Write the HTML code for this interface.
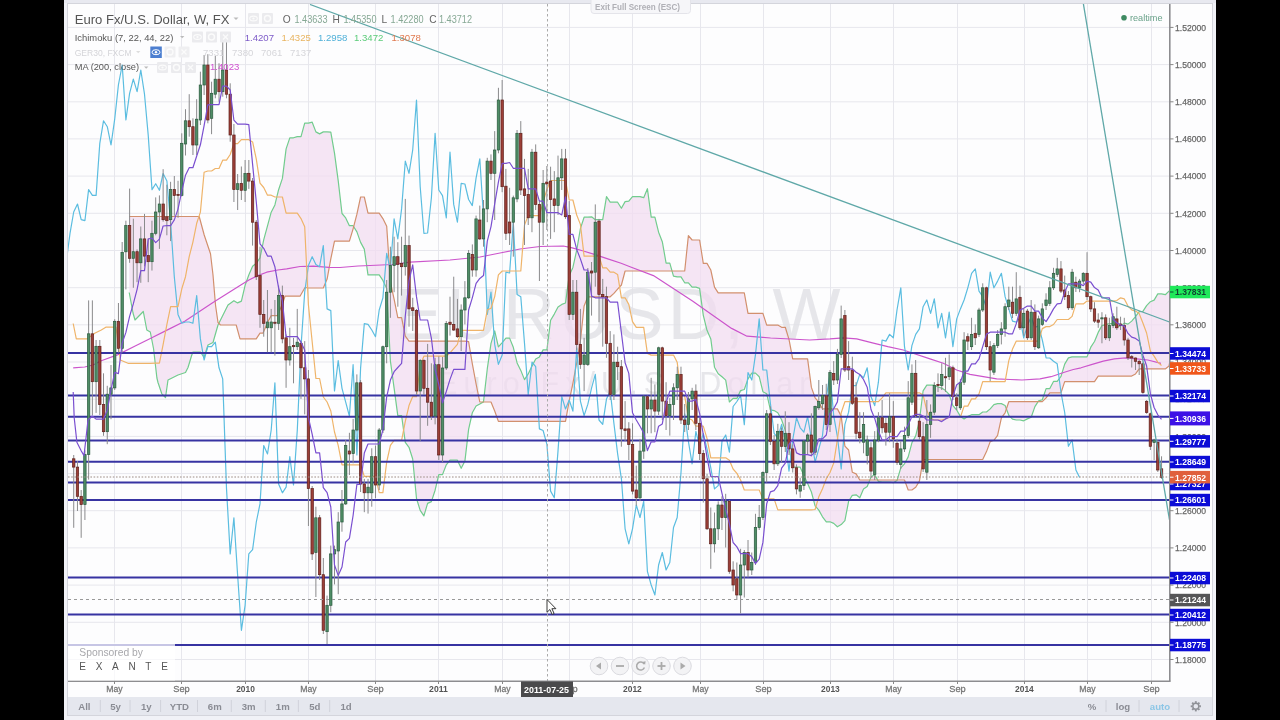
<!DOCTYPE html>
<html><head><meta charset="utf-8"><title>EURUSD W</title>
<style>
html,body{margin:0;padding:0;background:#000;width:1280px;height:720px;overflow:hidden}
#frame{position:absolute;left:64px;top:0;width:1152px;height:720px;background:#f1f2f7}
#topbar{position:absolute;left:64px;top:0;width:1152px;height:3px;background:#e8e9f0}
#border{position:absolute;left:67px;top:3px;width:1146px;height:713px;background:#d4d5dc}
#chartbg{position:absolute;left:68px;top:4px;width:1144px;height:693px;background:#fdfdfe}
#toolbar{position:absolute;left:68px;top:697px;width:1144px;height:18px;background:#e5e7ee}
#bottom{position:absolute;left:64px;top:716px;width:1152px;height:4px;background:#f1f2f7}
svg{position:absolute;left:0;top:0;filter:blur(0.35px)}
text{font-family:"Liberation Sans",Arial,sans-serif}
.g{stroke:#e7e7ed;stroke-width:1}
.l{fill:none;stroke-width:1.2;stroke-linejoin:round}
.bl{stroke:#3733a2;stroke-width:2.1}
.wk{stroke:#8a8a8c;stroke-width:1}
.cg{fill:#4f8d66;stroke:#2a5a3e;stroke-width:0.7}
.cr{fill:#9c3f38;stroke:#5e1f1a;stroke-width:0.7}
.wm1{font-size:72px;fill:#e2e2e6;fill-opacity:0.85}
.wm2{font-size:30.5px;fill:#e2e2e6;letter-spacing:6.1px;fill-opacity:0.85}
.pl{font-size:9.8px;fill:#666;stroke:#666;stroke-width:0.25}
.bx{font-size:9.8px;fill:#fff;font-weight:bold}
.tl{font-size:9.4px;fill:#777;text-anchor:middle;stroke:#777;stroke-width:0.3}
.tb{font-size:9.4px;fill:#555;text-anchor:middle;font-weight:bold}
.lg{fill:#555}
.btn{font-size:9.6px;fill:#8a8c94;text-anchor:middle;font-weight:bold}
.sep{stroke:#d0d2da;stroke-width:1}
.ic{fill:#ebebee}
</style></head>
<body>
<div id="frame"></div>
<div id="topbar"></div>
<div id="border"></div>
<div id="chartbg"></div>
<div id="toolbar"></div>
<div id="bottom"></div>
<svg width="1280" height="720" viewBox="0 0 1280 720">
<defs><clipPath id="pc"><rect x="68" y="4" width="1101.5" height="677"/></clipPath></defs>
<g clip-path="url(#pc)">
<line x1="114.5" y1="4" x2="114.5" y2="681" class="g"/>
<line x1="181.5" y1="4" x2="181.5" y2="681" class="g"/>
<line x1="245.5" y1="4" x2="245.5" y2="681" class="g"/>
<line x1="308.5" y1="4" x2="308.5" y2="681" class="g"/>
<line x1="375.5" y1="4" x2="375.5" y2="681" class="g"/>
<line x1="438.5" y1="4" x2="438.5" y2="681" class="g"/>
<line x1="502.5" y1="4" x2="502.5" y2="681" class="g"/>
<line x1="569.5" y1="4" x2="569.5" y2="681" class="g"/>
<line x1="632.5" y1="4" x2="632.5" y2="681" class="g"/>
<line x1="700.5" y1="4" x2="700.5" y2="681" class="g"/>
<line x1="763.5" y1="4" x2="763.5" y2="681" class="g"/>
<line x1="830.5" y1="4" x2="830.5" y2="681" class="g"/>
<line x1="893.5" y1="4" x2="893.5" y2="681" class="g"/>
<line x1="957.5" y1="4" x2="957.5" y2="681" class="g"/>
<line x1="1024.5" y1="4" x2="1024.5" y2="681" class="g"/>
<line x1="1087.5" y1="4" x2="1087.5" y2="681" class="g"/>
<line x1="1151.5" y1="4" x2="1151.5" y2="681" class="g"/>
<line x1="68" y1="27.4" x2="1169.5" y2="27.4" class="g"/>
<line x1="68" y1="64.6" x2="1169.5" y2="64.6" class="g"/>
<line x1="68" y1="101.8" x2="1169.5" y2="101.8" class="g"/>
<line x1="68" y1="138.9" x2="1169.5" y2="138.9" class="g"/>
<line x1="68" y1="176.1" x2="1169.5" y2="176.1" class="g"/>
<line x1="68" y1="213.3" x2="1169.5" y2="213.3" class="g"/>
<line x1="68" y1="250.5" x2="1169.5" y2="250.5" class="g"/>
<line x1="68" y1="287.7" x2="1169.5" y2="287.7" class="g"/>
<line x1="68" y1="324.8" x2="1169.5" y2="324.8" class="g"/>
<line x1="68" y1="362.0" x2="1169.5" y2="362.0" class="g"/>
<line x1="68" y1="399.2" x2="1169.5" y2="399.2" class="g"/>
<line x1="68" y1="436.4" x2="1169.5" y2="436.4" class="g"/>
<line x1="68" y1="473.6" x2="1169.5" y2="473.6" class="g"/>
<line x1="68" y1="510.7" x2="1169.5" y2="510.7" class="g"/>
<line x1="68" y1="547.9" x2="1169.5" y2="547.9" class="g"/>
<line x1="68" y1="585.1" x2="1169.5" y2="585.1" class="g"/>
<line x1="68" y1="622.3" x2="1169.5" y2="622.3" class="g"/>
<line x1="68" y1="659.5" x2="1169.5" y2="659.5" class="g"/>
<text x="394.5" y="339.2" class="wm1" textLength="446" lengthAdjust="spacing">EURUSD, W</text>
<text x="437" y="393.8" class="wm2">Euro Fx/U.S. Dollar</text>
<polygon points="129.2,292.5 133.0,313.0 135.0,320.0 143.3,311.5 146.8,330.0 150.3,332.0 153.6,349.0 156.9,378.0 158.0,382.5 161.8,393.8 165.5,397.5 168.0,380.0 173.0,377.5 178.0,375.0 185.5,372.5 188.0,367.5 191.8,355.0 193.0,352.0 199.2,352.0 200.5,352.0 204.0,357.5 204.2,356.7 208.0,345.0 210.5,343.8 213.0,342.5 215.5,333.8 218.0,325.0 220.5,320.0 223.0,315.0 228.0,305.0 233.9,300.7 236.2,302.1 237.6,302.9 240.0,301.8 241.4,301.1 245.1,285.3 248.8,275.0 252.6,266.2 256.2,263.3 256.3,263.3 260.0,257.9 260.0,257.9 263.1,242.9 263.7,239.9 267.5,225.9 267.5,225.7 271.2,212.2 271.2,212.0 274.9,204.9 277.5,194.3 278.6,189.7 282.4,178.4 282.5,177.3 285.0,157.5 286.1,148.9 289.8,137.9 293.5,137.8 297.3,136.6 300.0,136.6 301.0,136.6 304.7,123.2 305.0,123.2 308.4,123.2 312.2,122.2 315.9,131.9 319.6,133.9 323.3,131.9 327.1,131.9 330.8,132.1 334.5,153.2 338.2,180.6 342.0,213.5 345.7,217.9 349.4,225.7 353.1,225.7 356.9,231.9 360.6,242.4 364.3,249.1 368.0,274.9 371.8,274.9 375.5,274.9 379.2,274.9 382.9,280.4 386.7,288.4 390.4,361.0 394.1,388.2 397.8,415.7 401.6,415.7 405.3,442.3 409.0,447.3 412.7,459.0 416.5,498.5 420.2,510.4 423.9,515.9 427.6,503.4 431.4,501.6 435.1,490.2 438.8,474.6 442.5,474.6 446.3,464.8 450.0,460.2 453.7,460.2 457.4,460.2 461.2,468.3 464.9,461.1 468.6,429.4 472.3,412.8 476.1,406.0 479.8,403.9 483.5,401.9 487.3,368.7 491.0,343.3 494.7,330.8 498.4,346.8 502.2,342.6 505.9,338.1 509.6,338.1 513.3,347.3 517.1,362.9 520.8,370.4 524.5,379.6 528.2,373.9 532.0,366.1 535.7,359.0 539.4,356.9 543.1,349.9 546.9,349.9 550.6,320.2 554.3,314.1 558.0,306.9 561.8,304.4 565.5,303.0 569.2,275.5 572.9,267.4 576.7,250.2 580.4,228.6 584.1,217.2 587.8,217.2 591.6,216.8 595.3,219.7 599.0,219.7 602.7,219.7 606.5,196.7 610.2,202.2 613.9,202.2 617.6,202.2 621.4,208.3 625.1,201.6 628.8,201.1 632.5,196.6 636.3,196.6 640.0,196.6 643.7,197.7 647.4,188.7 651.2,217.2 654.9,217.2 658.6,232.2 662.3,241.7 666.1,263.1 669.8,263.1 673.5,276.1 677.2,276.9 681.0,276.9 684.7,282.8 688.4,282.8 692.1,287.2 695.9,287.2 699.6,288.3 703.3,315.3 707.0,330.3 710.8,338.9 714.5,367.2 718.2,373.7 722.0,376.8 725.7,380.1 729.4,402.0 733.1,398.4 736.9,398.4 740.6,390.6 744.3,389.5 748.0,378.9 751.8,373.1 755.5,373.1 759.2,376.7 762.9,391.7 766.7,393.7 770.4,409.8 774.1,410.6 777.8,412.8 781.6,419.8 785.3,430.4 789.0,447.8 792.7,467.2 796.5,467.2 800.2,467.2 803.9,475.6 807.6,483.6 811.4,492.0 815.1,505.8 818.8,510.1 822.5,516.8 826.3,521.8 830.0,521.8 833.7,523.4 837.4,526.8 841.2,524.6 844.9,520.6 848.6,501.3 852.3,495.4 856.1,494.8 859.8,497.8 863.5,489.0 867.2,486.5 871.0,477.1 874.7,474.6 878.4,481.4 882.1,482.2 885.9,482.2 889.6,482.2 893.3,482.7 897.0,480.6 900.8,467.8 904.5,463.8 908.2,456.9 911.9,442.8 915.7,435.9 919.4,420.7 923.1,390.8 926.8,385.2 930.6,385.2 934.3,385.2 938.0,387.0 941.7,388.1 945.5,390.6 949.2,394.5 952.9,405.6 956.7,410.0 960.4,416.4 964.1,418.9 967.8,416.4 971.6,414.7 975.3,414.7 979.0,414.7 982.7,412.0 986.5,412.0 990.2,408.9 993.9,404.7 997.6,403.6 1001.4,403.6 1005.1,405.5 1008.8,415.3 1012.5,419.2 1016.3,420.0 1020.0,420.0 1023.7,420.8 1027.4,418.9 1031.2,417.2 1034.9,406.6 1038.6,400.9 1042.3,399.7 1046.1,388.6 1049.8,388.6 1053.5,381.4 1057.2,381.4 1061.0,376.4 1064.7,364.1 1068.4,357.9 1072.1,356.9 1075.9,356.9 1079.6,356.9 1083.3,356.9 1087.0,356.9 1090.8,347.2 1094.5,341.5 1098.2,332.4 1101.9,325.6 1105.7,324.7 1109.4,323.6 1113.1,323.6 1116.8,326.1 1120.6,326.1 1124.3,323.2 1128.0,324.1 1131.7,321.1 1135.5,316.7 1139.2,311.7 1142.9,311.4 1146.6,305.7 1150.4,301.7 1154.1,300.1 1157.8,293.9 1161.5,293.9 1165.3,294.7 1169.0,291.1 1172.7,291.6 1176.5,294.4 1180.2,295.6 1183.9,299.4 1187.6,299.4 1191.4,299.4 1195.1,310.3 1198.8,311.6 1202.5,311.4 1206.3,312.5 1210.0,319.7 1213.7,323.5 1217.4,324.7 1221.2,327.2 1224.9,339.1 1228.6,349.4 1232.3,372.5 1236.1,381.8 1239.8,388.4 1243.5,392.4 1243.5,365.5 1239.8,362.1 1236.1,356.1 1232.3,351.1 1228.6,333.0 1224.9,323.0 1221.2,316.6 1217.4,316.6 1213.7,316.6 1210.0,316.6 1206.3,318.6 1202.5,331.1 1198.8,331.1 1195.1,331.1 1191.4,331.1 1187.6,331.1 1183.9,331.1 1180.2,331.1 1176.5,333.6 1172.7,345.0 1169.0,366.1 1165.3,368.9 1161.5,368.9 1157.8,368.9 1154.1,368.9 1150.4,368.9 1146.6,368.9 1142.9,368.9 1139.2,368.9 1135.5,373.9 1131.7,376.1 1128.0,376.1 1124.3,376.1 1120.6,376.1 1116.8,376.1 1113.1,376.1 1109.4,376.1 1105.7,376.1 1101.9,376.1 1098.2,376.1 1094.5,381.6 1090.8,381.6 1087.0,381.6 1083.3,381.6 1079.6,381.6 1075.9,381.6 1072.1,381.6 1068.4,381.6 1064.7,381.6 1061.0,392.8 1057.2,392.8 1053.5,392.8 1049.8,392.8 1046.1,397.8 1042.3,401.7 1038.6,401.7 1034.9,401.7 1031.2,401.7 1027.4,401.7 1023.7,401.7 1020.0,401.7 1016.3,401.7 1012.5,401.7 1008.8,401.7 1005.1,412.8 1001.4,417.8 997.6,435.3 993.9,440.3 990.2,441.6 986.5,451.6 982.7,459.5 979.0,459.5 975.3,459.5 971.6,459.5 967.8,459.5 964.1,459.5 960.4,459.5 956.7,459.5 952.9,459.5 949.2,459.5 945.5,459.5 941.7,459.5 938.0,459.5 934.3,459.5 930.6,459.5 926.8,459.5 923.1,459.5 919.4,481.1 915.7,487.2 911.9,490.0 908.2,490.0 904.5,480.0 900.8,480.0 897.0,480.0 893.3,480.0 889.6,480.0 885.9,480.0 882.1,480.0 878.4,480.0 874.7,480.0 871.0,480.0 867.2,480.0 863.5,480.0 859.8,480.0 856.1,473.9 852.3,472.2 848.6,450.0 844.9,446.1 841.2,416.1 837.4,408.9 833.7,408.9 830.0,408.9 826.3,408.9 822.5,408.9 818.8,402.2 815.1,397.8 811.4,387.4 807.6,358.8 803.9,358.8 800.2,358.8 796.5,358.8 792.7,358.8 789.0,339.4 785.3,327.3 781.6,327.3 777.8,325.1 774.1,325.1 770.4,325.1 766.7,325.1 762.9,313.4 759.2,313.4 755.5,313.4 751.8,313.4 748.0,313.4 744.3,292.9 740.6,292.9 736.9,292.9 733.1,292.9 729.4,292.9 725.7,292.9 722.0,292.9 718.2,292.9 714.5,287.2 710.8,270.0 707.0,263.4 703.3,263.4 699.6,240.0 695.9,240.0 692.1,240.0 688.4,235.6 684.7,271.0 681.0,271.0 677.2,271.0 673.5,271.0 669.8,271.0 666.1,271.0 662.3,271.0 658.6,271.0 654.9,271.0 651.2,271.0 647.4,271.0 643.7,271.0 640.0,271.0 636.3,271.0 632.5,271.0 628.8,271.0 625.1,271.0 621.4,285.0 617.6,289.1 613.9,293.4 610.2,296.8 606.5,296.8 602.7,296.8 599.0,296.8 595.3,296.8 591.6,296.8 587.8,296.8 584.1,305.9 580.4,341.0 576.7,362.7 572.9,383.3 569.2,400.9 565.5,421.4 561.8,421.4 558.0,421.4 554.3,421.4 550.6,421.4 546.9,421.4 543.1,421.4 539.4,421.4 535.7,421.4 532.0,421.4 528.2,421.4 524.5,421.4 520.8,421.4 517.1,421.4 513.3,421.4 509.6,421.4 505.9,421.4 502.2,421.4 498.4,421.4 494.7,411.0 491.0,402.0 487.3,402.0 483.5,402.0 479.8,402.0 476.1,384.0 472.3,363.6 468.6,341.6 464.9,341.1 461.2,341.1 457.4,341.1 453.7,341.1 450.0,341.1 446.3,341.1 442.5,341.1 438.8,341.1 435.1,341.1 431.4,341.1 427.6,341.1 423.9,341.1 420.2,341.1 416.5,341.1 412.7,341.1 409.0,341.1 405.3,336.1 401.6,317.6 397.8,317.6 394.1,299.1 390.4,282.1 386.7,226.3 382.9,218.6 379.2,213.1 375.5,213.1 371.8,213.1 368.0,213.1 364.3,197.0 360.6,197.0 356.9,214.2 353.1,228.8 349.4,241.2 345.7,241.2 342.0,241.2 338.2,241.2 334.5,241.2 330.8,258.9 327.1,279.1 323.3,288.0 319.6,288.0 315.9,288.0 312.2,288.0 308.4,288.0 305.0,287.5 304.7,288.0 301.0,294.5 300.0,296.2 297.3,296.2 293.5,296.2 289.8,296.2 286.1,296.2 285.0,296.2 282.5,303.8 282.4,304.1 278.6,312.9 277.5,315.6 274.9,315.6 271.2,315.6 271.2,315.7 267.5,322.5 267.5,322.6 263.7,331.6 263.1,333.1 260.0,333.1 260.0,333.1 256.3,338.7 256.2,338.8 252.6,338.8 248.8,338.8 245.1,338.8 241.4,338.8 240.0,338.8 237.6,330.1 236.2,325.0 233.9,325.0 228.0,325.0 223.0,325.0 220.5,325.0 218.0,322.5 215.5,305.0 213.0,275.0 210.5,253.8 208.0,246.2 204.2,235.0 204.0,234.1 200.5,221.1 199.2,216.5 193.0,216.5 191.8,216.5 188.0,216.5 185.5,216.5 178.0,216.5 173.0,216.5 168.0,216.5 165.5,216.5 161.8,216.5 158.0,216.5 156.9,216.5 153.6,216.5 150.3,216.5 146.8,216.5 143.3,216.5 135.0,216.5 133.0,216.5 129.2,216.5" fill="#f2dcf0" fill-opacity="0.75" stroke="none"/>
<polyline points="129.2,292.5 133.0,313.0 135.0,320.0 143.3,311.5 146.8,330.0 150.3,332.0 153.6,349.0 156.9,378.0 158.0,382.5 161.8,393.8 165.5,397.5 168.0,380.0 173.0,377.5 178.0,375.0 185.5,372.5 188.0,367.5 191.8,355.0 193.0,352.0 200.5,352.0 204.0,357.5 208.0,345.0 213.0,342.5 218.0,325.0 223.0,315.0 228.0,305.0 233.9,300.7 237.6,302.9 241.4,301.1 245.1,285.3 248.8,275.0 252.6,266.2 256.3,263.3 260.0,257.9 263.7,239.9 267.5,225.9 271.2,212.2 274.9,204.9 278.6,189.7 282.4,178.4 286.1,148.9 289.8,137.9 293.5,137.8 297.3,136.6 301.0,136.6 304.7,123.2 308.4,123.2 312.2,122.2 315.9,131.9 319.6,133.9 323.3,131.9 327.1,131.9 330.8,132.1 334.5,153.2 338.2,180.6 342.0,213.5 345.7,217.9 349.4,225.7 353.1,225.7 356.9,231.9 360.6,242.4 364.3,249.1 368.0,274.9 371.8,274.9 375.5,274.9 379.2,274.9 382.9,280.4 386.7,288.4 390.4,361.0 394.1,388.2 397.8,415.7 401.6,415.7 405.3,442.3 409.0,447.3 412.7,459.0 416.5,498.5 420.2,510.4 423.9,515.9 427.6,503.4 431.4,501.6 435.1,490.2 438.8,474.6 442.5,474.6 446.3,464.8 450.0,460.2 453.7,460.2 457.4,460.2 461.2,468.3 464.9,461.1 468.6,429.4 472.3,412.8 476.1,406.0 479.8,403.9 483.5,401.9 487.3,368.7 491.0,343.3 494.7,330.8 498.4,346.8 502.2,342.6 505.9,338.1 509.6,338.1 513.3,347.3 517.1,362.9 520.8,370.4 524.5,379.6 528.2,373.9 532.0,366.1 535.7,359.0 539.4,356.9 543.1,349.9 546.9,349.9 550.6,320.2 554.3,314.1 558.0,306.9 561.8,304.4 565.5,303.0 569.2,275.5 572.9,267.4 576.7,250.2 580.4,228.6 584.1,217.2 587.8,217.2 591.6,216.8 595.3,219.7 599.0,219.7 602.7,219.7 606.5,196.7 610.2,202.2 613.9,202.2 617.6,202.2 621.4,208.3 625.1,201.6 628.8,201.1 632.5,196.6 636.3,196.6 640.0,196.6 643.7,197.7 647.4,188.7 651.2,217.2 654.9,217.2 658.6,232.2 662.3,241.7 666.1,263.1 669.8,263.1 673.5,276.1 677.2,276.9 681.0,276.9 684.7,282.8 688.4,282.8 692.1,287.2 695.9,287.2 699.6,288.3 703.3,315.3 707.0,330.3 710.8,338.9 714.5,367.2 718.2,373.7 722.0,376.8 725.7,380.1 729.4,402.0 733.1,398.4 736.9,398.4 740.6,390.6 744.3,389.5 748.0,378.9 751.8,373.1 755.5,373.1 759.2,376.7 762.9,391.7 766.7,393.7 770.4,409.8 774.1,410.6 777.8,412.8 781.6,419.8 785.3,430.4 789.0,447.8 792.7,467.2 796.5,467.2 800.2,467.2 803.9,475.6 807.6,483.6 811.4,492.0 815.1,505.8 818.8,510.1 822.5,516.8 826.3,521.8 830.0,521.8 833.7,523.4 837.4,526.8 841.2,524.6 844.9,520.6 848.6,501.3 852.3,495.4 856.1,494.8 859.8,497.8 863.5,489.0 867.2,486.5 871.0,477.1 874.7,474.6 878.4,481.4 882.1,482.2 885.9,482.2 889.6,482.2 893.3,482.7 897.0,480.6 900.8,467.8 904.5,463.8 908.2,456.9 911.9,442.8 915.7,435.9 919.4,420.7 923.1,390.8 926.8,385.2 930.6,385.2 934.3,385.2 938.0,387.0 941.7,388.1 945.5,390.6 949.2,394.5 952.9,405.6 956.7,410.0 960.4,416.4 964.1,418.9 967.8,416.4 971.6,414.7 975.3,414.7 979.0,414.7 982.7,412.0 986.5,412.0 990.2,408.9 993.9,404.7 997.6,403.6 1001.4,403.6 1005.1,405.5 1008.8,415.3 1012.5,419.2 1016.3,420.0 1020.0,420.0 1023.7,420.8 1027.4,418.9 1031.2,417.2 1034.9,406.6 1038.6,400.9 1042.3,399.7 1046.1,388.6 1049.8,388.6 1053.5,381.4 1057.2,381.4 1061.0,376.4 1064.7,364.1 1068.4,357.9 1072.1,356.9 1075.9,356.9 1079.6,356.9 1083.3,356.9 1087.0,356.9 1090.8,347.2 1094.5,341.5 1098.2,332.4 1101.9,325.6 1105.7,324.7 1109.4,323.6 1113.1,323.6 1116.8,326.1 1120.6,326.1 1124.3,323.2 1128.0,324.1 1131.7,321.1 1135.5,316.7 1139.2,311.7 1142.9,311.4 1146.6,305.7 1150.4,301.7 1154.1,300.1 1157.8,293.9 1161.5,293.9 1165.3,294.7 1169.0,291.1 1172.7,291.6 1176.5,294.4 1180.2,295.6 1183.9,299.4 1187.6,299.4 1191.4,299.4 1195.1,310.3 1198.8,311.6 1202.5,311.4 1206.3,312.5 1210.0,319.7 1213.7,323.5 1217.4,324.7 1221.2,327.2 1224.9,339.1 1228.6,349.4 1232.3,372.5 1236.1,381.8 1239.8,388.4 1243.5,392.4" class="l" stroke="#72cc8e"/>
<polyline points="129.2,216.5 199.2,216.5 204.2,235.0 210.5,253.8 213.0,275.0 215.5,305.0 218.0,322.5 220.5,325.0 236.2,325.0 240.0,338.8 256.2,338.8 260.0,333.1 263.1,333.1 267.5,322.5 271.2,315.6 277.5,315.6 282.5,303.8 285.0,296.2 300.0,296.2 305.0,287.5 308.4,288.0 312.2,288.0 315.9,288.0 319.6,288.0 323.3,288.0 327.1,279.1 330.8,258.9 334.5,241.2 338.2,241.2 342.0,241.2 345.7,241.2 349.4,241.2 353.1,228.8 356.9,214.2 360.6,197.0 364.3,197.0 368.0,213.1 371.8,213.1 375.5,213.1 379.2,213.1 382.9,218.6 386.7,226.3 390.4,282.1 394.1,299.1 397.8,317.6 401.6,317.6 405.3,336.1 409.0,341.1 412.7,341.1 416.5,341.1 420.2,341.1 423.9,341.1 427.6,341.1 431.4,341.1 435.1,341.1 438.8,341.1 442.5,341.1 446.3,341.1 450.0,341.1 453.7,341.1 457.4,341.1 461.2,341.1 464.9,341.1 468.6,341.6 472.3,363.6 476.1,384.0 479.8,402.0 483.5,402.0 487.3,402.0 491.0,402.0 494.7,411.0 498.4,421.4 502.2,421.4 505.9,421.4 509.6,421.4 513.3,421.4 517.1,421.4 520.8,421.4 524.5,421.4 528.2,421.4 532.0,421.4 535.7,421.4 539.4,421.4 543.1,421.4 546.9,421.4 550.6,421.4 554.3,421.4 558.0,421.4 561.8,421.4 565.5,421.4 569.2,400.9 572.9,383.3 576.7,362.7 580.4,341.0 584.1,305.9 587.8,296.8 591.6,296.8 595.3,296.8 599.0,296.8 602.7,296.8 606.5,296.8 610.2,296.8 613.9,293.4 617.6,289.1 621.4,285.0 625.1,271.0 628.8,271.0 632.5,271.0 636.3,271.0 640.0,271.0 643.7,271.0 647.4,271.0 651.2,271.0 654.9,271.0 658.6,271.0 662.3,271.0 666.1,271.0 669.8,271.0 673.5,271.0 677.2,271.0 681.0,271.0 684.7,271.0 688.4,235.6 692.1,240.0 695.9,240.0 699.6,240.0 703.3,263.4 707.0,263.4 710.8,270.0 714.5,287.2 718.2,292.9 722.0,292.9 725.7,292.9 729.4,292.9 733.1,292.9 736.9,292.9 740.6,292.9 744.3,292.9 748.0,313.4 751.8,313.4 755.5,313.4 759.2,313.4 762.9,313.4 766.7,325.1 770.4,325.1 774.1,325.1 777.8,325.1 781.6,327.3 785.3,327.3 789.0,339.4 792.7,358.8 796.5,358.8 800.2,358.8 803.9,358.8 807.6,358.8 811.4,387.4 815.1,397.8 818.8,402.2 822.5,408.9 826.3,408.9 830.0,408.9 833.7,408.9 837.4,408.9 841.2,416.1 844.9,446.1 848.6,450.0 852.3,472.2 856.1,473.9 859.8,480.0 863.5,480.0 867.2,480.0 871.0,480.0 874.7,480.0 878.4,480.0 882.1,480.0 885.9,480.0 889.6,480.0 893.3,480.0 897.0,480.0 900.8,480.0 904.5,480.0 908.2,490.0 911.9,490.0 915.7,487.2 919.4,481.1 923.1,459.5 926.8,459.5 930.6,459.5 934.3,459.5 938.0,459.5 941.7,459.5 945.5,459.5 949.2,459.5 952.9,459.5 956.7,459.5 960.4,459.5 964.1,459.5 967.8,459.5 971.6,459.5 975.3,459.5 979.0,459.5 982.7,459.5 986.5,451.6 990.2,441.6 993.9,440.3 997.6,435.3 1001.4,417.8 1005.1,412.8 1008.8,401.7 1012.5,401.7 1016.3,401.7 1020.0,401.7 1023.7,401.7 1027.4,401.7 1031.2,401.7 1034.9,401.7 1038.6,401.7 1042.3,401.7 1046.1,397.8 1049.8,392.8 1053.5,392.8 1057.2,392.8 1061.0,392.8 1064.7,381.6 1068.4,381.6 1072.1,381.6 1075.9,381.6 1079.6,381.6 1083.3,381.6 1087.0,381.6 1090.8,381.6 1094.5,381.6 1098.2,376.1 1101.9,376.1 1105.7,376.1 1109.4,376.1 1113.1,376.1 1116.8,376.1 1120.6,376.1 1124.3,376.1 1128.0,376.1 1131.7,376.1 1135.5,373.9 1139.2,368.9 1142.9,368.9 1146.6,368.9 1150.4,368.9 1154.1,368.9 1157.8,368.9 1161.5,368.9 1165.3,368.9 1169.0,366.1 1172.7,345.0 1176.5,333.6 1180.2,331.1 1183.9,331.1 1187.6,331.1 1191.4,331.1 1195.1,331.1 1198.8,331.1 1202.5,331.1 1206.3,318.6 1210.0,316.6 1213.7,316.6 1217.4,316.6 1221.2,316.6 1224.9,323.0 1228.6,333.0 1232.3,351.1 1236.1,356.1 1239.8,362.1 1243.5,365.5" class="l" stroke="#d2906e"/>
<polyline points="73.2,367.8 84.7,367.0 93.0,365.0 101.3,360.8 118.0,354.6 134.7,346.3 151.3,338.0 168.0,329.6 184.7,321.3 213.0,302.5 240.0,285.6 248.9,280.0 257.8,275.6 266.7,272.2 277.8,270.0 286.7,268.9 300.0,266.5 313.3,266.2 328.9,267.3 340.0,267.5 358.0,266.0 370.0,265.5 392.2,264.5 410.0,262.2 450.0,260.0 480.0,257.0 500.0,253.0 520.0,249.0 540.0,246.5 563.3,246.0 572.2,247.8 583.3,251.0 594.4,254.4 607.8,258.9 621.1,263.3 630.0,266.7 653.4,275.6 692.5,301.0 712.0,314.7 731.6,328.4 747.0,336.2 770.6,338.0 809.7,340.0 830.0,338.9 843.3,337.8 856.7,338.9 874.4,343.3 887.8,346.7 903.3,350.0 910.0,352.2 930.0,358.9 943.3,363.3 956.7,370.0 970.0,374.4 983.3,376.7 996.7,378.9 1010.0,379.5 1022.0,380.0 1040.0,378.9 1051.0,376.7 1064.4,372.2 1073.3,369.5 1081.0,367.8 1092.2,364.4 1103.3,361.1 1114.4,358.9 1125.6,357.8 1136.7,358.9 1147.8,360.0 1161.0,363.3" class="l" stroke="#cc55cc" stroke-width="1.3"/>
<polyline points="-8.2,467.1 -4.5,496.3 -0.8,504.6 2.9,454.6 6.7,333.8 10.4,381.7 14.1,346.3 17.9,404.6 21.6,431.7 25.3,394.2 29.0,387.9 32.8,321.3 36.5,348.3 40.2,252.5 43.9,225.6 47.7,258.3 51.4,251.7 55.1,262.8 58.8,238.9 62.6,256.1 66.3,261.7 70.0,233.3 73.7,212.0 77.5,204.0 81.2,219.7 84.9,220.7 88.6,189.6 92.4,195.4 96.1,195.4 99.8,143.3 103.5,120.8 107.3,126.7 111.0,145.0 114.7,119.2 118.4,85.0 122.2,65.0 125.9,120.0 129.6,93.3 133.3,79.2 137.1,91.7 140.8,70.0 144.5,94.2 148.2,135.0 152.0,189.6 155.7,183.7 159.4,190.3 163.1,173.5 166.9,181.1 170.6,222.2 174.3,276.7 178.0,314.4 181.8,323.3 185.5,322.0 189.2,322.0 192.9,323.3 196.7,295.6 200.4,338.9 204.1,360.0 207.8,346.7 211.6,346.7 215.3,342.2 219.0,367.8 222.7,378.9 226.5,488.6 230.2,553.9 233.9,517.8 237.6,574.7 241.4,630.3 245.1,605.3 248.8,553.9 252.6,549.7 256.3,522.0 260.0,503.9 263.7,445.6 267.5,454.0 271.2,430.0 274.9,382.8 278.6,484.0 282.4,492.8 286.1,487.2 289.8,456.7 293.5,485.0 297.3,430.0 301.0,346.7 304.7,292.2 308.4,265.6 312.2,256.7 315.9,264.4 319.6,266.7 323.3,245.6 327.1,308.9 330.8,310.6 334.5,391.0 338.2,360.6 342.0,388.3 345.7,402.2 349.4,416.1 353.1,364.7 356.9,455.0 360.6,368.0 364.3,323.6 368.0,324.4 371.8,330.0 375.5,336.7 379.2,310.0 382.9,297.8 386.7,253.3 390.4,270.0 394.1,218.9 397.8,238.9 401.6,208.9 405.3,161.1 409.0,173.3 412.7,150.0 416.5,100.0 420.2,186.7 423.9,233.3 427.6,233.0 431.4,197.8 435.1,133.3 438.8,190.0 442.5,195.6 446.3,217.8 450.0,152.2 453.7,204.4 457.4,222.2 461.2,183.3 464.9,184.0 468.6,199.5 472.3,205.6 476.1,177.8 479.8,158.9 483.5,216.7 487.3,314.4 491.0,292.2 494.7,344.4 498.4,364.4 502.2,355.0 505.9,272.2 509.6,273.0 513.3,222.2 517.1,294.4 520.8,296.7 524.5,343.3 528.2,394.4 532.0,362.2 535.7,366.7 539.4,428.9 543.1,430.5 546.9,444.4 550.6,491.1 554.3,497.8 558.0,451.1 561.8,396.7 565.5,409.0 569.2,400.0 572.9,411.1 576.7,347.8 580.4,401.1 584.1,415.6 587.8,404.4 591.6,387.8 595.3,374.4 599.0,420.0 602.7,424.4 606.5,398.9 610.2,391.1 613.9,423.3 617.6,453.6 621.4,478.8 625.1,528.8 628.8,543.8 632.5,528.8 636.3,505.0 640.0,517.5 643.7,501.3 647.4,571.3 651.2,585.0 654.9,595.0 658.6,565.0 662.3,552.5 666.1,570.0 669.8,562.5 673.5,527.5 677.2,517.5 681.0,472.5 684.7,413.8 688.4,441.3 692.1,463.8 695.9,431.3 699.6,446.3 703.3,433.5 707.0,448.9 710.8,467.8 714.5,488.9 718.2,485.6 722.0,441.1 725.7,435.0 729.4,452.2 733.1,406.5 736.9,401.5 740.6,395.5 744.3,424.6 748.0,372.5 751.8,380.0 755.5,354.4 759.2,318.9 762.9,370.0 766.7,370.0 770.4,403.3 774.1,433.3 777.8,437.8 781.6,424.4 785.3,440.0 789.0,471.1 792.7,440.0 796.5,417.8 800.2,427.8 803.9,432.2 807.6,416.7 811.4,438.9 815.1,462.2 818.8,448.9 822.5,435.6 826.3,397.8 830.0,373.3 833.7,415.6 837.4,436.7 841.2,468.9 844.9,424.4 848.6,412.2 852.3,385.6 856.1,385.6 859.8,374.4 863.5,377.8 867.2,367.8 871.0,396.7 874.7,405.6 878.4,382.2 882.1,340.0 885.9,341.1 889.6,334.4 893.3,337.8 897.0,310.0 900.8,287.8 904.5,346.7 908.2,370.0 911.9,345.6 915.7,334.4 919.4,328.9 923.1,306.7 926.8,300.0 930.6,313.3 934.3,298.9 938.0,327.8 941.7,313.3 945.5,337.8 949.2,312.2 952.9,346.7 956.7,318.9 960.4,308.9 964.1,300.0 967.8,287.8 971.6,273.3 975.3,268.9 979.0,291.1 982.7,296.7 986.5,307.8 990.2,272.2 993.9,287.8 997.6,281.1 1001.4,273.3 1005.1,296.7 1008.8,308.9 1012.5,321.1 1016.3,322.2 1020.0,317.8 1023.7,337.8 1027.4,325.6 1031.2,316.7 1034.9,327.8 1038.6,325.6 1042.3,340.0 1046.1,357.8 1049.8,358.0 1053.5,361.3 1057.2,363.8 1061.0,392.5 1064.7,412.5 1068.4,446.3 1072.1,440.0 1075.9,470.0 1079.6,477.5" class="l" stroke="#5bbde0" stroke-width="1.3"/>
<polyline points="73.2,323.5 76.3,338.9 86.9,338.9 94.7,333.3 101.3,330.0 105.8,327.2 116.0,327.2 120.3,360.0 128.0,363.3 150.0,363.3 155.7,363.2 159.4,363.2 163.1,344.6 166.9,324.4 170.6,306.7 174.3,306.7 178.0,306.7 181.8,288.8 185.5,276.7 189.2,256.7 192.9,242.1 196.7,223.3 200.4,212.1 204.1,172.2 207.8,171.0 211.6,171.0 215.3,168.5 219.0,168.5 222.7,160.2 226.5,160.2 230.2,154.5 233.9,143.6 237.6,143.6 241.4,139.7 245.1,139.7 248.8,139.7 252.6,141.9 256.3,159.2 260.0,183.1 263.7,187.5 267.5,195.2 271.2,195.2 274.9,197.0 278.6,197.0 282.4,197.0 286.1,213.1 289.8,213.1 293.5,213.1 297.3,213.1 301.0,218.6 304.7,226.8 308.4,304.6 312.2,342.0 315.9,378.5 319.6,378.5 323.3,397.0 327.1,402.0 330.8,411.0 334.5,432.0 338.2,445.4 342.0,464.8 345.7,464.8 349.4,464.8 353.1,464.8 356.9,464.8 360.6,464.8 364.3,476.4 368.0,476.4 371.8,476.4 375.5,476.4 379.2,492.6 382.9,492.6 386.7,462.0 390.4,445.4 394.1,440.4 397.8,440.4 401.6,440.4 405.3,421.4 409.0,405.6 412.7,396.6 416.5,396.6 420.2,365.3 423.9,356.2 427.6,356.2 431.4,356.2 435.1,356.2 438.8,356.2 442.5,356.2 446.3,356.2 450.0,352.8 453.7,348.6 457.4,344.4 461.2,330.4 464.9,330.4 468.6,330.4 472.3,330.4 476.1,330.4 479.8,330.4 483.5,330.4 487.3,309.9 491.0,308.2 494.7,296.6 498.4,274.9 502.2,271.0 505.9,271.0 509.6,271.0 513.3,271.0 517.1,271.0 520.8,271.0 524.5,225.0 528.2,215.6 532.0,215.6 535.7,215.6 539.4,215.6 543.1,202.2 546.9,189.4 550.6,180.5 554.3,180.5 558.0,180.5 561.8,180.5 565.5,180.5 569.2,200.0 572.9,200.0 576.7,215.0 580.4,224.4 584.1,256.1 587.8,256.1 591.6,256.1 595.3,256.1 599.0,256.1 602.7,267.8 606.5,267.8 610.2,272.2 613.9,272.2 617.6,274.4 621.4,297.8 625.1,297.8 628.8,304.4 632.5,321.6 636.3,327.3 640.0,327.3 643.7,327.3 647.4,353.4 651.2,355.1 654.9,355.1 658.6,355.1 662.3,355.1 666.1,355.1 669.8,355.1 673.5,355.1 677.2,362.3 681.0,392.3 684.7,396.2 688.4,418.4 692.1,420.0 695.9,426.2 699.6,426.2 703.3,426.2 707.0,438.4 710.8,457.8 714.5,457.8 718.2,457.8 722.0,457.8 725.7,457.8 729.4,460.2 733.1,469.0 736.9,473.4 740.6,480.0 744.3,490.0 748.0,490.0 751.8,490.0 755.5,490.0 759.2,490.0 762.9,498.9 766.7,498.9 770.4,498.9 774.1,498.9 777.8,509.9 781.6,509.9 785.3,509.9 789.0,509.9 792.7,509.9 796.5,509.9 800.2,509.9 803.9,509.9 807.6,509.9 811.4,509.9 815.1,509.5 818.8,496.7 822.5,488.8 826.3,478.8 830.0,472.5 833.7,463.1 837.4,439.4 841.2,412.8 844.9,401.7 848.6,401.7 852.3,401.7 856.1,401.7 859.8,401.7 863.5,401.7 867.2,401.7 871.0,401.7 874.7,401.7 878.4,401.7 882.1,397.8 885.9,392.8 889.6,392.8 893.3,392.8 897.0,392.8 900.8,392.8 904.5,392.8 908.2,392.8 911.9,392.8 915.7,392.8 919.4,392.8 923.1,395.0 926.8,410.6 930.6,418.4 934.3,420.0 938.0,420.0 941.7,420.0 945.5,418.9 949.2,417.2 952.9,417.2 956.7,417.2 960.4,417.2 964.1,406.1 967.8,406.1 971.6,398.9 975.3,398.9 979.0,393.9 982.7,381.6 986.5,381.6 990.2,381.6 993.9,381.6 997.6,381.6 1001.4,381.6 1005.1,381.6 1008.8,360.6 1012.5,349.1 1016.3,341.1 1020.0,341.1 1023.7,341.1 1027.4,341.1 1031.2,341.1 1034.9,341.1 1038.6,341.1 1042.3,328.6 1046.1,326.6 1049.8,326.6 1053.5,324.5 1057.2,319.5 1061.0,319.5 1064.7,319.5 1068.4,319.5 1072.1,316.4 1075.9,303.9 1079.6,303.9 1083.3,303.9 1087.0,301.1 1090.8,301.1 1094.5,301.1 1098.2,301.1 1101.9,301.1 1105.7,301.1 1109.4,301.1 1113.1,301.1 1116.8,300.5 1120.6,297.8 1124.3,298.9 1128.0,306.1 1131.7,309.9 1135.5,311.1 1139.2,313.6 1142.9,323.0 1146.6,333.0 1150.4,351.1 1154.1,356.1 1157.8,362.1 1161.5,365.5" class="l" stroke="#efb46a"/>
<line x1="68" y1="353" x2="1169.5" y2="353" class="bl"/>
<line x1="68" y1="395.5" x2="1169.5" y2="395.5" class="bl"/>
<line x1="68" y1="416.75" x2="1169.5" y2="416.75" class="bl"/>
<line x1="68" y1="440.5" x2="1169.5" y2="440.5" class="bl"/>
<line x1="68" y1="461.75" x2="1169.5" y2="461.75" class="bl"/>
<line x1="68" y1="482.5" x2="1169.5" y2="482.5" class="bl"/>
<line x1="68" y1="500" x2="1169.5" y2="500" class="bl"/>
<line x1="68" y1="577.5" x2="1169.5" y2="577.5" class="bl"/>
<line x1="68" y1="614.5" x2="1169.5" y2="614.5" class="bl"/>
<line x1="68" y1="645" x2="1169.5" y2="645" class="bl"/>
<line x1="73.73" y1="455.0" x2="73.73" y2="527.8" class="wk"/>
<rect x="72.53" y="458.8" width="2.4" height="8.3" class="cr"/>
<line x1="77.46" y1="461.0" x2="77.46" y2="511.0" class="wk"/>
<rect x="76.26" y="467.1" width="2.4" height="29.2" class="cr"/>
<line x1="81.18" y1="490.0" x2="81.18" y2="537.8" class="wk"/>
<rect x="79.98" y="496.3" width="2.4" height="8.3" class="cr"/>
<line x1="84.91" y1="450.4" x2="84.91" y2="520.0" class="wk"/>
<rect x="83.71" y="454.6" width="2.4" height="50.0" class="cg"/>
<line x1="88.63" y1="300.4" x2="88.63" y2="479.6" class="wk"/>
<rect x="87.43" y="333.8" width="2.4" height="120.8" class="cg"/>
<line x1="92.36" y1="300.4" x2="92.36" y2="415.0" class="wk"/>
<rect x="91.16" y="333.8" width="2.4" height="47.9" class="cr"/>
<line x1="96.08" y1="340.0" x2="96.08" y2="412.9" class="wk"/>
<rect x="94.88" y="346.3" width="2.4" height="35.4" class="cg"/>
<line x1="99.81" y1="340.0" x2="99.81" y2="415.0" class="wk"/>
<rect x="98.61" y="346.3" width="2.4" height="58.3" class="cr"/>
<line x1="103.53" y1="373.3" x2="103.53" y2="435.8" class="wk"/>
<rect x="102.33" y="404.6" width="2.4" height="27.1" class="cr"/>
<line x1="107.26" y1="385.8" x2="107.26" y2="444.2" class="wk"/>
<rect x="106.06" y="394.2" width="2.4" height="37.5" class="cg"/>
<line x1="110.99" y1="365.0" x2="110.99" y2="419.2" class="wk"/>
<rect x="109.79" y="387.9" width="2.4" height="6.3" class="cg"/>
<line x1="114.71" y1="319.2" x2="114.71" y2="390.0" class="wk"/>
<rect x="113.51" y="321.3" width="2.4" height="66.6" class="cg"/>
<line x1="118.44" y1="303.0" x2="118.44" y2="352.5" class="wk"/>
<rect x="117.24" y="321.3" width="2.4" height="27.0" class="cr"/>
<line x1="122.16" y1="242.0" x2="122.16" y2="352.5" class="wk"/>
<rect x="120.96" y="252.5" width="2.4" height="95.8" class="cg"/>
<line x1="125.89" y1="220.7" x2="125.89" y2="289.4" class="wk"/>
<rect x="124.69" y="225.6" width="2.4" height="26.2" class="cg"/>
<line x1="129.61" y1="188.6" x2="129.61" y2="262.8" class="wk"/>
<rect x="128.41" y="225.6" width="2.4" height="32.7" class="cr"/>
<line x1="133.34" y1="218.7" x2="133.34" y2="287.8" class="wk"/>
<rect x="132.14" y="251.7" width="2.4" height="6.6" class="cg"/>
<line x1="137.06" y1="249.4" x2="137.06" y2="282.2" class="wk"/>
<rect x="135.86" y="251.7" width="2.4" height="11.1" class="cr"/>
<line x1="140.79" y1="226.5" x2="140.79" y2="282.8" class="wk"/>
<rect x="139.59" y="238.9" width="2.4" height="23.9" class="cg"/>
<line x1="144.51" y1="213.9" x2="144.51" y2="266.4" class="wk"/>
<rect x="143.31" y="238.9" width="2.4" height="17.2" class="cr"/>
<line x1="148.24" y1="238.3" x2="148.24" y2="282.2" class="wk"/>
<rect x="147.04" y="255.6" width="2.4" height="6.1" class="cr"/>
<line x1="151.96" y1="220.7" x2="151.96" y2="270.6" class="wk"/>
<rect x="150.76" y="233.3" width="2.4" height="28.4" class="cg"/>
<line x1="155.69" y1="197.4" x2="155.69" y2="235.3" class="wk"/>
<rect x="154.49" y="212.0" width="2.4" height="21.3" class="cg"/>
<line x1="159.42" y1="195.4" x2="159.42" y2="248.9" class="wk"/>
<rect x="158.22" y="204.0" width="2.4" height="8.0" class="cg"/>
<line x1="163.14" y1="169.2" x2="163.14" y2="221.7" class="wk"/>
<rect x="161.94" y="204.0" width="2.4" height="15.7" class="cr"/>
<line x1="166.87" y1="184.7" x2="166.87" y2="235.3" class="wk"/>
<rect x="165.67" y="216.8" width="2.4" height="3.9" class="cr"/>
<line x1="170.59" y1="181.8" x2="170.59" y2="241.1" class="wk"/>
<rect x="169.39" y="189.6" width="2.4" height="30.1" class="cg"/>
<line x1="174.32" y1="176.0" x2="174.32" y2="215.8" class="wk"/>
<rect x="173.12" y="189.6" width="2.4" height="5.8" class="cr"/>
<line x1="178.04" y1="180.8" x2="178.04" y2="217.8" class="wk"/>
<rect x="176.84" y="194.4" width="2.4" height="1.0" class="cr"/>
<line x1="181.77" y1="133.3" x2="181.77" y2="196.4" class="wk"/>
<rect x="180.57" y="143.3" width="2.4" height="52.1" class="cg"/>
<line x1="185.49" y1="109.2" x2="185.49" y2="155.5" class="wk"/>
<rect x="184.29" y="120.8" width="2.4" height="23.2" class="cg"/>
<line x1="189.22" y1="94.2" x2="189.22" y2="136.7" class="wk"/>
<rect x="188.02" y="120.8" width="2.4" height="5.9" class="cr"/>
<line x1="192.94" y1="118.3" x2="192.94" y2="155.0" class="wk"/>
<rect x="191.74" y="126.7" width="2.4" height="18.3" class="cr"/>
<line x1="196.67" y1="99.2" x2="196.67" y2="155.0" class="wk"/>
<rect x="195.47" y="119.2" width="2.4" height="25.8" class="cg"/>
<line x1="200.40" y1="71.7" x2="200.40" y2="125.0" class="wk"/>
<rect x="199.20" y="85.0" width="2.4" height="35.0" class="cg"/>
<line x1="204.12" y1="55.0" x2="204.12" y2="95.0" class="wk"/>
<rect x="202.92" y="65.0" width="2.4" height="20.0" class="cg"/>
<line x1="207.85" y1="54.2" x2="207.85" y2="123.3" class="wk"/>
<rect x="206.65" y="65.0" width="2.4" height="55.0" class="cr"/>
<line x1="211.57" y1="81.7" x2="211.57" y2="134.2" class="wk"/>
<rect x="210.37" y="93.3" width="2.4" height="25.0" class="cg"/>
<line x1="215.30" y1="55.8" x2="215.30" y2="98.3" class="wk"/>
<rect x="214.10" y="79.2" width="2.4" height="15.0" class="cg"/>
<line x1="219.02" y1="63.3" x2="219.02" y2="101.7" class="wk"/>
<rect x="217.82" y="79.2" width="2.4" height="12.5" class="cr"/>
<line x1="222.75" y1="38.3" x2="222.75" y2="96.7" class="wk"/>
<rect x="221.55" y="70.0" width="2.4" height="21.7" class="cg"/>
<line x1="226.47" y1="39.2" x2="226.47" y2="98.3" class="wk"/>
<rect x="225.27" y="70.0" width="2.4" height="24.2" class="cr"/>
<line x1="230.20" y1="83.3" x2="230.20" y2="141.7" class="wk"/>
<rect x="229.00" y="94.2" width="2.4" height="40.8" class="cr"/>
<line x1="233.92" y1="124.0" x2="233.92" y2="202.0" class="wk"/>
<rect x="232.72" y="135.0" width="2.4" height="54.6" class="cr"/>
<line x1="237.65" y1="174.0" x2="237.65" y2="210.0" class="wk"/>
<rect x="236.45" y="183.7" width="2.4" height="5.9" class="cg"/>
<line x1="241.37" y1="166.5" x2="241.37" y2="200.0" class="wk"/>
<rect x="240.17" y="183.5" width="2.4" height="6.8" class="cr"/>
<line x1="245.10" y1="160.0" x2="245.10" y2="202.0" class="wk"/>
<rect x="243.90" y="173.5" width="2.4" height="16.8" class="cg"/>
<line x1="248.83" y1="160.0" x2="248.83" y2="188.9" class="wk"/>
<rect x="247.63" y="173.3" width="2.4" height="7.8" class="cr"/>
<line x1="252.55" y1="178.0" x2="252.55" y2="245.6" class="wk"/>
<rect x="251.35" y="181.1" width="2.4" height="41.1" class="cr"/>
<line x1="256.28" y1="220.0" x2="256.28" y2="280.0" class="wk"/>
<rect x="255.08" y="222.2" width="2.4" height="54.5" class="cr"/>
<line x1="260.00" y1="246.7" x2="260.00" y2="327.8" class="wk"/>
<rect x="258.80" y="275.6" width="2.4" height="38.8" class="cr"/>
<line x1="263.73" y1="300.0" x2="263.73" y2="336.7" class="wk"/>
<rect x="262.53" y="314.4" width="2.4" height="8.9" class="cr"/>
<line x1="267.45" y1="290.0" x2="267.45" y2="352.2" class="wk"/>
<rect x="266.25" y="322.0" width="2.4" height="5.8" class="cg"/>
<line x1="271.18" y1="308.9" x2="271.18" y2="352.2" class="wk"/>
<rect x="269.98" y="322.0" width="2.4" height="5.8" class="cg"/>
<line x1="274.90" y1="300.0" x2="274.90" y2="355.6" class="wk"/>
<rect x="273.70" y="322.2" width="2.4" height="1.1" class="cr"/>
<line x1="278.63" y1="285.6" x2="278.63" y2="330.0" class="wk"/>
<rect x="277.43" y="295.6" width="2.4" height="27.7" class="cg"/>
<line x1="282.35" y1="285.6" x2="282.35" y2="343.3" class="wk"/>
<rect x="281.15" y="295.6" width="2.4" height="43.3" class="cr"/>
<line x1="286.08" y1="334.4" x2="286.08" y2="387.8" class="wk"/>
<rect x="284.88" y="337.8" width="2.4" height="22.2" class="cr"/>
<line x1="289.80" y1="327.8" x2="289.80" y2="365.6" class="wk"/>
<rect x="288.60" y="346.7" width="2.4" height="13.3" class="cg"/>
<line x1="293.53" y1="337.8" x2="293.53" y2="383.3" class="wk"/>
<rect x="292.33" y="345.6" width="2.4" height="1.1" class="cr"/>
<line x1="297.26" y1="308.9" x2="297.26" y2="350.0" class="wk"/>
<rect x="296.06" y="342.2" width="2.4" height="4.5" class="cg"/>
<line x1="300.98" y1="341.1" x2="300.98" y2="398.9" class="wk"/>
<rect x="299.78" y="343.3" width="2.4" height="24.5" class="cr"/>
<line x1="304.71" y1="341.1" x2="304.71" y2="414.4" class="wk"/>
<rect x="303.51" y="367.8" width="2.4" height="11.1" class="cr"/>
<line x1="308.43" y1="370.0" x2="308.43" y2="526.0" class="wk"/>
<rect x="307.23" y="378.9" width="2.4" height="109.7" class="cr"/>
<line x1="312.16" y1="486.0" x2="312.16" y2="560.0" class="wk"/>
<rect x="310.96" y="488.6" width="2.4" height="65.3" class="cr"/>
<line x1="315.88" y1="506.7" x2="315.88" y2="597.0" class="wk"/>
<rect x="314.68" y="517.8" width="2.4" height="34.7" class="cg"/>
<line x1="319.61" y1="515.0" x2="319.61" y2="580.0" class="wk"/>
<rect x="318.41" y="517.8" width="2.4" height="56.9" class="cr"/>
<line x1="323.33" y1="558.0" x2="323.33" y2="634.0" class="wk"/>
<rect x="322.13" y="574.7" width="2.4" height="55.6" class="cr"/>
<line x1="327.06" y1="595.6" x2="327.06" y2="644.0" class="wk"/>
<rect x="325.86" y="605.3" width="2.4" height="26.4" class="cg"/>
<line x1="330.78" y1="545.6" x2="330.78" y2="612.2" class="wk"/>
<rect x="329.58" y="553.9" width="2.4" height="51.4" class="cg"/>
<line x1="334.51" y1="545.6" x2="334.51" y2="584.4" class="wk"/>
<rect x="333.31" y="549.7" width="2.4" height="4.2" class="cg"/>
<line x1="338.24" y1="512.2" x2="338.24" y2="594.2" class="wk"/>
<rect x="337.04" y="522.0" width="2.4" height="29.0" class="cg"/>
<line x1="341.96" y1="490.0" x2="341.96" y2="531.7" class="wk"/>
<rect x="340.76" y="503.9" width="2.4" height="18.1" class="cg"/>
<line x1="345.69" y1="440.0" x2="345.69" y2="505.0" class="wk"/>
<rect x="344.49" y="445.6" width="2.4" height="58.3" class="cg"/>
<line x1="349.41" y1="432.8" x2="349.41" y2="475.0" class="wk"/>
<rect x="348.21" y="451.0" width="2.4" height="3.0" class="cr"/>
<line x1="353.14" y1="418.9" x2="353.14" y2="463.3" class="wk"/>
<rect x="351.94" y="430.0" width="2.4" height="23.6" class="cg"/>
<line x1="356.86" y1="374.4" x2="356.86" y2="431.4" class="wk"/>
<rect x="355.66" y="382.8" width="2.4" height="47.2" class="cg"/>
<line x1="360.59" y1="380.0" x2="360.59" y2="492.0" class="wk"/>
<rect x="359.39" y="382.8" width="2.4" height="101.2" class="cr"/>
<line x1="364.31" y1="478.9" x2="364.31" y2="512.2" class="wk"/>
<rect x="363.11" y="484.0" width="2.4" height="8.8" class="cr"/>
<line x1="368.04" y1="478.9" x2="368.04" y2="513.6" class="wk"/>
<rect x="366.84" y="487.2" width="2.4" height="5.6" class="cg"/>
<line x1="371.76" y1="448.3" x2="371.76" y2="506.7" class="wk"/>
<rect x="370.56" y="456.7" width="2.4" height="36.1" class="cg"/>
<line x1="375.49" y1="445.6" x2="375.49" y2="498.3" class="wk"/>
<rect x="374.29" y="456.7" width="2.4" height="28.3" class="cr"/>
<line x1="379.21" y1="428.0" x2="379.21" y2="490.0" class="wk"/>
<rect x="378.01" y="430.0" width="2.4" height="55.0" class="cg"/>
<line x1="382.94" y1="345.6" x2="382.94" y2="433.0" class="wk"/>
<rect x="381.74" y="346.7" width="2.4" height="83.3" class="cg"/>
<line x1="386.67" y1="280.0" x2="386.67" y2="363.3" class="wk"/>
<rect x="385.47" y="292.2" width="2.4" height="54.5" class="cg"/>
<line x1="390.39" y1="246.7" x2="390.39" y2="317.8" class="wk"/>
<rect x="389.19" y="265.6" width="2.4" height="26.6" class="cg"/>
<line x1="394.12" y1="236.7" x2="394.12" y2="292.2" class="wk"/>
<rect x="392.92" y="256.7" width="2.4" height="8.9" class="cg"/>
<line x1="397.84" y1="242.2" x2="397.84" y2="306.7" class="wk"/>
<rect x="396.64" y="256.7" width="2.4" height="7.7" class="cr"/>
<line x1="401.57" y1="236.7" x2="401.57" y2="295.6" class="wk"/>
<rect x="400.37" y="263.3" width="2.4" height="3.4" class="cr"/>
<line x1="405.29" y1="198.9" x2="405.29" y2="275.6" class="wk"/>
<rect x="404.09" y="245.6" width="2.4" height="21.1" class="cg"/>
<line x1="409.02" y1="235.6" x2="409.02" y2="326.7" class="wk"/>
<rect x="407.82" y="245.6" width="2.4" height="63.3" class="cr"/>
<line x1="412.74" y1="297.8" x2="412.74" y2="331.0" class="wk"/>
<rect x="411.54" y="307.8" width="2.4" height="2.8" class="cr"/>
<line x1="416.47" y1="309.0" x2="416.47" y2="395.0" class="wk"/>
<rect x="415.27" y="310.6" width="2.4" height="80.4" class="cr"/>
<line x1="420.19" y1="359.2" x2="420.19" y2="441.1" class="wk"/>
<rect x="418.99" y="360.6" width="2.4" height="30.4" class="cg"/>
<line x1="423.92" y1="359.2" x2="423.92" y2="395.0" class="wk"/>
<rect x="422.72" y="360.6" width="2.4" height="27.7" class="cr"/>
<line x1="427.64" y1="343.9" x2="427.64" y2="425.8" class="wk"/>
<rect x="426.44" y="388.3" width="2.4" height="13.9" class="cr"/>
<line x1="431.37" y1="363.3" x2="431.37" y2="420.0" class="wk"/>
<rect x="430.17" y="402.2" width="2.4" height="13.9" class="cr"/>
<line x1="435.10" y1="357.8" x2="435.10" y2="424.4" class="wk"/>
<rect x="433.90" y="364.7" width="2.4" height="51.4" class="cg"/>
<line x1="438.82" y1="356.4" x2="438.82" y2="460.0" class="wk"/>
<rect x="437.62" y="364.7" width="2.4" height="90.3" class="cr"/>
<line x1="442.55" y1="357.0" x2="442.55" y2="462.0" class="wk"/>
<rect x="441.35" y="368.0" width="2.4" height="87.0" class="cg"/>
<line x1="446.27" y1="321.0" x2="446.27" y2="370.0" class="wk"/>
<rect x="445.07" y="323.6" width="2.4" height="44.4" class="cg"/>
<line x1="450.00" y1="296.7" x2="450.00" y2="335.6" class="wk"/>
<rect x="448.80" y="322.2" width="2.4" height="2.2" class="cr"/>
<line x1="453.72" y1="276.7" x2="453.72" y2="331.0" class="wk"/>
<rect x="452.52" y="324.4" width="2.4" height="5.6" class="cr"/>
<line x1="457.45" y1="298.9" x2="457.45" y2="337.8" class="wk"/>
<rect x="456.25" y="328.9" width="2.4" height="7.8" class="cr"/>
<line x1="461.17" y1="304.4" x2="461.17" y2="351.1" class="wk"/>
<rect x="459.97" y="310.0" width="2.4" height="26.7" class="cg"/>
<line x1="464.90" y1="281.1" x2="464.90" y2="324.4" class="wk"/>
<rect x="463.70" y="297.8" width="2.4" height="12.2" class="cg"/>
<line x1="468.62" y1="250.0" x2="468.62" y2="298.9" class="wk"/>
<rect x="467.42" y="253.3" width="2.4" height="44.5" class="cg"/>
<line x1="472.35" y1="244.4" x2="472.35" y2="276.7" class="wk"/>
<rect x="471.15" y="254.4" width="2.4" height="15.6" class="cr"/>
<line x1="476.07" y1="215.6" x2="476.07" y2="276.7" class="wk"/>
<rect x="474.87" y="218.9" width="2.4" height="51.1" class="cg"/>
<line x1="479.80" y1="205.6" x2="479.80" y2="240.0" class="wk"/>
<rect x="478.60" y="220.0" width="2.4" height="18.9" class="cr"/>
<line x1="483.53" y1="200.0" x2="483.53" y2="246.7" class="wk"/>
<rect x="482.33" y="208.9" width="2.4" height="30.0" class="cg"/>
<line x1="487.25" y1="157.8" x2="487.25" y2="222.2" class="wk"/>
<rect x="486.05" y="161.1" width="2.4" height="47.8" class="cg"/>
<line x1="490.98" y1="154.4" x2="490.98" y2="180.0" class="wk"/>
<rect x="489.78" y="161.1" width="2.4" height="12.2" class="cr"/>
<line x1="494.70" y1="131.1" x2="494.70" y2="220.0" class="wk"/>
<rect x="493.50" y="150.0" width="2.4" height="23.3" class="cg"/>
<line x1="498.43" y1="87.8" x2="498.43" y2="153.3" class="wk"/>
<rect x="497.23" y="100.0" width="2.4" height="50.0" class="cg"/>
<line x1="502.15" y1="80.0" x2="502.15" y2="192.2" class="wk"/>
<rect x="500.95" y="100.0" width="2.4" height="86.7" class="cr"/>
<line x1="505.88" y1="168.9" x2="505.88" y2="240.0" class="wk"/>
<rect x="504.68" y="186.2" width="2.4" height="47.1" class="cr"/>
<line x1="509.60" y1="187.8" x2="509.60" y2="245.0" class="wk"/>
<rect x="508.40" y="222.0" width="2.4" height="11.0" class="cr"/>
<line x1="513.33" y1="195.6" x2="513.33" y2="256.7" class="wk"/>
<rect x="512.13" y="197.8" width="2.4" height="24.4" class="cg"/>
<line x1="517.05" y1="130.0" x2="517.05" y2="202.2" class="wk"/>
<rect x="515.85" y="133.3" width="2.4" height="65.6" class="cg"/>
<line x1="520.78" y1="121.1" x2="520.78" y2="195.0" class="wk"/>
<rect x="519.58" y="133.3" width="2.4" height="56.7" class="cr"/>
<line x1="524.50" y1="158.9" x2="524.50" y2="245.0" class="wk"/>
<rect x="523.30" y="188.9" width="2.4" height="6.7" class="cr"/>
<line x1="528.23" y1="168.9" x2="528.23" y2="225.0" class="wk"/>
<rect x="527.03" y="194.4" width="2.4" height="23.4" class="cr"/>
<line x1="531.96" y1="148.9" x2="531.96" y2="232.2" class="wk"/>
<rect x="530.76" y="152.2" width="2.4" height="65.6" class="cg"/>
<line x1="535.68" y1="144.4" x2="535.68" y2="210.0" class="wk"/>
<rect x="534.48" y="152.2" width="2.4" height="52.2" class="cr"/>
<line x1="539.41" y1="200.0" x2="539.41" y2="281.0" class="wk"/>
<rect x="538.21" y="204.4" width="2.4" height="17.8" class="cr"/>
<line x1="543.13" y1="170.0" x2="543.13" y2="245.0" class="wk"/>
<rect x="541.93" y="183.3" width="2.4" height="38.9" class="cg"/>
<line x1="546.86" y1="166.0" x2="546.86" y2="230.0" class="wk"/>
<rect x="545.66" y="182.0" width="2.4" height="2.0" class="cr"/>
<line x1="550.58" y1="166.7" x2="550.58" y2="238.9" class="wk"/>
<rect x="549.38" y="181.1" width="2.4" height="18.4" class="cr"/>
<line x1="554.31" y1="171.1" x2="554.31" y2="232.2" class="wk"/>
<rect x="553.11" y="198.9" width="2.4" height="6.7" class="cr"/>
<line x1="558.03" y1="155.6" x2="558.03" y2="215.0" class="wk"/>
<rect x="556.83" y="177.8" width="2.4" height="27.8" class="cg"/>
<line x1="561.76" y1="148.9" x2="561.76" y2="190.0" class="wk"/>
<rect x="560.56" y="158.9" width="2.4" height="18.9" class="cg"/>
<line x1="565.48" y1="148.9" x2="565.48" y2="218.9" class="wk"/>
<rect x="564.28" y="158.9" width="2.4" height="57.8" class="cr"/>
<line x1="569.21" y1="201.1" x2="569.21" y2="320.0" class="wk"/>
<rect x="568.01" y="215.6" width="2.4" height="98.8" class="cr"/>
<line x1="572.94" y1="280.0" x2="572.94" y2="320.0" class="wk"/>
<rect x="571.74" y="292.2" width="2.4" height="22.2" class="cg"/>
<line x1="576.66" y1="280.0" x2="576.66" y2="350.0" class="wk"/>
<rect x="575.46" y="292.2" width="2.4" height="52.2" class="cr"/>
<line x1="580.39" y1="308.9" x2="580.39" y2="368.9" class="wk"/>
<rect x="579.19" y="344.4" width="2.4" height="20.0" class="cr"/>
<line x1="584.11" y1="337.8" x2="584.11" y2="391.1" class="wk"/>
<rect x="582.91" y="355.0" width="2.4" height="9.4" class="cg"/>
<line x1="587.84" y1="268.0" x2="587.84" y2="366.0" class="wk"/>
<rect x="586.64" y="272.2" width="2.4" height="92.2" class="cg"/>
<line x1="591.56" y1="262.0" x2="591.56" y2="315.6" class="wk"/>
<rect x="590.36" y="271.0" width="2.4" height="2.0" class="cr"/>
<line x1="595.29" y1="204.4" x2="595.29" y2="286.7" class="wk"/>
<rect x="594.09" y="222.2" width="2.4" height="50.0" class="cg"/>
<line x1="599.01" y1="218.9" x2="599.01" y2="322.2" class="wk"/>
<rect x="597.81" y="221.1" width="2.4" height="73.3" class="cr"/>
<line x1="602.74" y1="278.9" x2="602.74" y2="346.7" class="wk"/>
<rect x="601.54" y="294.4" width="2.4" height="2.3" class="cr"/>
<line x1="606.46" y1="286.7" x2="606.46" y2="357.8" class="wk"/>
<rect x="605.26" y="296.7" width="2.4" height="46.6" class="cr"/>
<line x1="610.19" y1="331.1" x2="610.19" y2="400.0" class="wk"/>
<rect x="608.99" y="343.3" width="2.4" height="51.1" class="cr"/>
<line x1="613.91" y1="334.4" x2="613.91" y2="400.0" class="wk"/>
<rect x="612.71" y="362.2" width="2.4" height="32.2" class="cg"/>
<line x1="617.64" y1="346.7" x2="617.64" y2="380.0" class="wk"/>
<rect x="616.44" y="362.2" width="2.4" height="4.5" class="cr"/>
<line x1="621.37" y1="360.0" x2="621.37" y2="446.7" class="wk"/>
<rect x="620.17" y="366.7" width="2.4" height="62.2" class="cr"/>
<line x1="625.09" y1="401.1" x2="625.09" y2="441.1" class="wk"/>
<rect x="623.89" y="428.9" width="2.4" height="1.6" class="cr"/>
<line x1="628.82" y1="422.2" x2="628.82" y2="460.0" class="wk"/>
<rect x="627.62" y="428.9" width="2.4" height="15.5" class="cr"/>
<line x1="632.54" y1="423.3" x2="632.54" y2="494.4" class="wk"/>
<rect x="631.34" y="444.4" width="2.4" height="46.7" class="cr"/>
<line x1="636.27" y1="465.6" x2="636.27" y2="505.7" class="wk"/>
<rect x="635.07" y="490.0" width="2.4" height="7.8" class="cr"/>
<line x1="639.99" y1="438.9" x2="639.99" y2="501.1" class="wk"/>
<rect x="638.79" y="451.1" width="2.4" height="46.7" class="cg"/>
<line x1="643.72" y1="395.6" x2="643.72" y2="458.9" class="wk"/>
<rect x="642.52" y="396.7" width="2.4" height="54.4" class="cg"/>
<line x1="647.44" y1="395.6" x2="647.44" y2="433.3" class="wk"/>
<rect x="646.24" y="396.7" width="2.4" height="12.3" class="cr"/>
<line x1="651.17" y1="377.8" x2="651.17" y2="433.3" class="wk"/>
<rect x="649.97" y="400.0" width="2.4" height="9.0" class="cg"/>
<line x1="654.89" y1="384.4" x2="654.89" y2="432.2" class="wk"/>
<rect x="653.69" y="400.0" width="2.4" height="11.1" class="cr"/>
<line x1="658.62" y1="346.7" x2="658.62" y2="415.0" class="wk"/>
<rect x="657.42" y="347.8" width="2.4" height="63.3" class="cg"/>
<line x1="662.34" y1="346.7" x2="662.34" y2="420.0" class="wk"/>
<rect x="661.14" y="347.8" width="2.4" height="53.3" class="cr"/>
<line x1="666.07" y1="382.2" x2="666.07" y2="430.0" class="wk"/>
<rect x="664.87" y="401.1" width="2.4" height="14.5" class="cr"/>
<line x1="669.80" y1="397.8" x2="669.80" y2="435.6" class="wk"/>
<rect x="668.60" y="404.4" width="2.4" height="11.2" class="cg"/>
<line x1="673.52" y1="383.3" x2="673.52" y2="420.0" class="wk"/>
<rect x="672.32" y="387.8" width="2.4" height="16.6" class="cg"/>
<line x1="677.25" y1="366.7" x2="677.25" y2="400.0" class="wk"/>
<rect x="676.05" y="374.4" width="2.4" height="13.4" class="cg"/>
<line x1="680.97" y1="366.7" x2="680.97" y2="424.0" class="wk"/>
<rect x="679.77" y="374.4" width="2.4" height="45.6" class="cr"/>
<line x1="684.70" y1="404.0" x2="684.70" y2="432.0" class="wk"/>
<rect x="683.50" y="420.0" width="2.4" height="4.4" class="cr"/>
<line x1="688.42" y1="392.0" x2="688.42" y2="430.0" class="wk"/>
<rect x="687.22" y="398.9" width="2.4" height="25.5" class="cg"/>
<line x1="692.15" y1="387.8" x2="692.15" y2="410.0" class="wk"/>
<rect x="690.95" y="391.1" width="2.4" height="7.8" class="cg"/>
<line x1="695.87" y1="384.4" x2="695.87" y2="430.0" class="wk"/>
<rect x="694.67" y="391.1" width="2.4" height="32.2" class="cr"/>
<line x1="699.60" y1="418.0" x2="699.60" y2="460.0" class="wk"/>
<rect x="698.40" y="423.3" width="2.4" height="30.3" class="cr"/>
<line x1="703.32" y1="450.0" x2="703.32" y2="502.5" class="wk"/>
<rect x="702.12" y="453.6" width="2.4" height="25.2" class="cr"/>
<line x1="707.05" y1="473.8" x2="707.05" y2="530.0" class="wk"/>
<rect x="705.85" y="478.8" width="2.4" height="50.0" class="cr"/>
<line x1="710.77" y1="507.5" x2="710.77" y2="568.8" class="wk"/>
<rect x="709.57" y="528.8" width="2.4" height="15.0" class="cr"/>
<line x1="714.50" y1="512.5" x2="714.50" y2="552.5" class="wk"/>
<rect x="713.30" y="528.8" width="2.4" height="15.0" class="cg"/>
<line x1="718.23" y1="501.3" x2="718.23" y2="540.0" class="wk"/>
<rect x="717.03" y="505.0" width="2.4" height="23.8" class="cg"/>
<line x1="721.95" y1="496.3" x2="721.95" y2="530.0" class="wk"/>
<rect x="720.75" y="505.0" width="2.4" height="12.5" class="cr"/>
<line x1="725.68" y1="493.8" x2="725.68" y2="547.5" class="wk"/>
<rect x="724.48" y="501.3" width="2.4" height="16.2" class="cg"/>
<line x1="729.40" y1="500.0" x2="729.40" y2="573.8" class="wk"/>
<rect x="728.20" y="501.3" width="2.4" height="70.0" class="cr"/>
<line x1="733.13" y1="561.3" x2="733.13" y2="591.3" class="wk"/>
<rect x="731.93" y="570.0" width="2.4" height="15.0" class="cr"/>
<line x1="736.85" y1="562.5" x2="736.85" y2="600.0" class="wk"/>
<rect x="735.65" y="578.8" width="2.4" height="16.2" class="cr"/>
<line x1="740.58" y1="548.8" x2="740.58" y2="613.4" class="wk"/>
<rect x="739.38" y="565.0" width="2.4" height="30.0" class="cg"/>
<line x1="744.30" y1="550.0" x2="744.30" y2="597.5" class="wk"/>
<rect x="743.10" y="552.5" width="2.4" height="12.5" class="cg"/>
<line x1="748.03" y1="540.0" x2="748.03" y2="577.5" class="wk"/>
<rect x="746.83" y="552.5" width="2.4" height="17.5" class="cr"/>
<line x1="751.75" y1="552.5" x2="751.75" y2="575.0" class="wk"/>
<rect x="750.55" y="562.5" width="2.4" height="7.5" class="cg"/>
<line x1="755.48" y1="513.8" x2="755.48" y2="565.0" class="wk"/>
<rect x="754.28" y="527.5" width="2.4" height="35.0" class="cg"/>
<line x1="759.21" y1="505.0" x2="759.21" y2="530.0" class="wk"/>
<rect x="758.01" y="517.5" width="2.4" height="10.0" class="cg"/>
<line x1="762.93" y1="471.3" x2="762.93" y2="520.0" class="wk"/>
<rect x="761.73" y="472.5" width="2.4" height="45.0" class="cg"/>
<line x1="766.66" y1="410.0" x2="766.66" y2="482.5" class="wk"/>
<rect x="765.46" y="413.8" width="2.4" height="58.7" class="cg"/>
<line x1="770.38" y1="406.3" x2="770.38" y2="445.0" class="wk"/>
<rect x="769.18" y="413.8" width="2.4" height="27.5" class="cr"/>
<line x1="774.11" y1="435.0" x2="774.11" y2="470.0" class="wk"/>
<rect x="772.91" y="441.3" width="2.4" height="22.5" class="cr"/>
<line x1="777.83" y1="423.8" x2="777.83" y2="466.0" class="wk"/>
<rect x="776.63" y="431.3" width="2.4" height="32.5" class="cg"/>
<line x1="781.56" y1="427.5" x2="781.56" y2="462.5" class="wk"/>
<rect x="780.36" y="431.3" width="2.4" height="15.0" class="cr"/>
<line x1="785.28" y1="411.3" x2="785.28" y2="452.0" class="wk"/>
<rect x="784.08" y="433.5" width="2.4" height="13.0" class="cg"/>
<line x1="789.01" y1="422.2" x2="789.01" y2="455.0" class="wk"/>
<rect x="787.81" y="433.5" width="2.4" height="15.4" class="cr"/>
<line x1="792.73" y1="444.4" x2="792.73" y2="472.5" class="wk"/>
<rect x="791.53" y="448.9" width="2.4" height="18.9" class="cr"/>
<line x1="796.46" y1="464.4" x2="796.46" y2="494.4" class="wk"/>
<rect x="795.26" y="467.8" width="2.4" height="21.1" class="cr"/>
<line x1="800.18" y1="477.8" x2="800.18" y2="497.8" class="wk"/>
<rect x="798.98" y="485.6" width="2.4" height="5.5" class="cg"/>
<line x1="803.91" y1="440.0" x2="803.91" y2="490.0" class="wk"/>
<rect x="802.71" y="441.1" width="2.4" height="44.5" class="cg"/>
<line x1="807.64" y1="433.3" x2="807.64" y2="455.0" class="wk"/>
<rect x="806.44" y="435.0" width="2.4" height="6.1" class="cg"/>
<line x1="811.36" y1="413.3" x2="811.36" y2="456.3" class="wk"/>
<rect x="810.16" y="435.0" width="2.4" height="17.2" class="cr"/>
<line x1="815.09" y1="405.6" x2="815.09" y2="455.0" class="wk"/>
<rect x="813.89" y="406.5" width="2.4" height="45.7" class="cg"/>
<line x1="818.81" y1="380.0" x2="818.81" y2="410.0" class="wk"/>
<rect x="817.61" y="401.5" width="2.4" height="6.3" class="cg"/>
<line x1="822.54" y1="385.0" x2="822.54" y2="410.0" class="wk"/>
<rect x="821.34" y="395.5" width="2.4" height="8.3" class="cg"/>
<line x1="826.26" y1="383.8" x2="826.26" y2="430.0" class="wk"/>
<rect x="825.06" y="395.8" width="2.4" height="28.8" class="cr"/>
<line x1="829.99" y1="370.0" x2="829.99" y2="432.0" class="wk"/>
<rect x="828.79" y="372.5" width="2.4" height="51.9" class="cg"/>
<line x1="833.71" y1="361.1" x2="833.71" y2="385.0" class="wk"/>
<rect x="832.51" y="373.5" width="2.4" height="6.5" class="cr"/>
<line x1="837.44" y1="348.9" x2="837.44" y2="384.0" class="wk"/>
<rect x="836.24" y="354.4" width="2.4" height="25.6" class="cg"/>
<line x1="841.16" y1="305.6" x2="841.16" y2="358.0" class="wk"/>
<rect x="839.96" y="318.9" width="2.4" height="35.5" class="cg"/>
<line x1="844.89" y1="310.0" x2="844.89" y2="372.0" class="wk"/>
<rect x="843.69" y="315.6" width="2.4" height="54.4" class="cr"/>
<line x1="848.61" y1="341.1" x2="848.61" y2="380.0" class="wk"/>
<rect x="847.41" y="366.7" width="2.4" height="3.3" class="cr"/>
<line x1="852.34" y1="356.7" x2="852.34" y2="405.0" class="wk"/>
<rect x="851.14" y="370.0" width="2.4" height="33.3" class="cr"/>
<line x1="856.07" y1="382.2" x2="856.07" y2="439.0" class="wk"/>
<rect x="854.87" y="397.8" width="2.4" height="35.5" class="cr"/>
<line x1="859.79" y1="412.2" x2="859.79" y2="443.3" class="wk"/>
<rect x="858.59" y="432.2" width="2.4" height="5.6" class="cr"/>
<line x1="863.52" y1="412.2" x2="863.52" y2="453.3" class="wk"/>
<rect x="862.32" y="424.4" width="2.4" height="17.8" class="cg"/>
<line x1="867.24" y1="435.6" x2="867.24" y2="464.4" class="wk"/>
<rect x="866.04" y="440.0" width="2.4" height="15.6" class="cg"/>
<line x1="870.97" y1="442.2" x2="870.97" y2="477.8" class="wk"/>
<rect x="869.77" y="447.8" width="2.4" height="23.3" class="cr"/>
<line x1="874.69" y1="431.1" x2="874.69" y2="480.0" class="wk"/>
<rect x="873.49" y="440.0" width="2.4" height="34.4" class="cg"/>
<line x1="878.42" y1="412.2" x2="878.42" y2="442.2" class="wk"/>
<rect x="877.22" y="417.8" width="2.4" height="22.2" class="cg"/>
<line x1="882.14" y1="400.0" x2="882.14" y2="433.3" class="wk"/>
<rect x="880.94" y="417.8" width="2.4" height="10.0" class="cr"/>
<line x1="885.87" y1="417.8" x2="885.87" y2="445.6" class="wk"/>
<rect x="884.67" y="423.3" width="2.4" height="8.9" class="cr"/>
<line x1="889.59" y1="393.3" x2="889.59" y2="442.2" class="wk"/>
<rect x="888.39" y="416.7" width="2.4" height="15.5" class="cg"/>
<line x1="893.32" y1="401.1" x2="893.32" y2="447.8" class="wk"/>
<rect x="892.12" y="416.7" width="2.4" height="22.2" class="cr"/>
<line x1="897.05" y1="438.9" x2="897.05" y2="465.0" class="wk"/>
<rect x="895.85" y="443.3" width="2.4" height="18.9" class="cr"/>
<line x1="900.77" y1="441.1" x2="900.77" y2="468.9" class="wk"/>
<rect x="899.57" y="448.9" width="2.4" height="15.5" class="cg"/>
<line x1="904.50" y1="426.7" x2="904.50" y2="452.0" class="wk"/>
<rect x="903.30" y="435.6" width="2.4" height="13.3" class="cg"/>
<line x1="908.22" y1="381.1" x2="908.22" y2="438.0" class="wk"/>
<rect x="907.02" y="397.8" width="2.4" height="37.8" class="cg"/>
<line x1="911.95" y1="364.4" x2="911.95" y2="405.0" class="wk"/>
<rect x="910.75" y="373.3" width="2.4" height="28.9" class="cg"/>
<line x1="915.67" y1="360.0" x2="915.67" y2="418.0" class="wk"/>
<rect x="914.47" y="373.3" width="2.4" height="42.3" class="cr"/>
<line x1="919.40" y1="415.6" x2="919.40" y2="440.0" class="wk"/>
<rect x="918.20" y="421.1" width="2.4" height="15.6" class="cr"/>
<line x1="923.12" y1="422.2" x2="923.12" y2="472.0" class="wk"/>
<rect x="921.92" y="436.7" width="2.4" height="32.2" class="cr"/>
<line x1="926.85" y1="400.0" x2="926.85" y2="480.0" class="wk"/>
<rect x="925.65" y="424.4" width="2.4" height="47.8" class="cg"/>
<line x1="930.57" y1="404.4" x2="930.57" y2="437.8" class="wk"/>
<rect x="929.37" y="412.2" width="2.4" height="12.2" class="cg"/>
<line x1="934.30" y1="382.2" x2="934.30" y2="415.0" class="wk"/>
<rect x="933.10" y="385.6" width="2.4" height="26.6" class="cg"/>
<line x1="938.02" y1="373.3" x2="938.02" y2="392.0" class="wk"/>
<rect x="936.82" y="384.4" width="2.4" height="1.2" class="cr"/>
<line x1="941.75" y1="363.3" x2="941.75" y2="390.0" class="wk"/>
<rect x="940.55" y="374.4" width="2.4" height="11.2" class="cg"/>
<line x1="945.48" y1="357.8" x2="945.48" y2="392.0" class="wk"/>
<rect x="944.28" y="376.7" width="2.4" height="1.1" class="cr"/>
<line x1="949.20" y1="354.4" x2="949.20" y2="380.0" class="wk"/>
<rect x="948.00" y="367.8" width="2.4" height="8.9" class="cg"/>
<line x1="952.93" y1="365.6" x2="952.93" y2="400.0" class="wk"/>
<rect x="951.73" y="367.8" width="2.4" height="28.9" class="cr"/>
<line x1="956.65" y1="393.3" x2="956.65" y2="410.0" class="wk"/>
<rect x="955.45" y="397.8" width="2.4" height="7.8" class="cr"/>
<line x1="960.38" y1="378.9" x2="960.38" y2="410.0" class="wk"/>
<rect x="959.18" y="382.2" width="2.4" height="25.6" class="cg"/>
<line x1="964.10" y1="332.2" x2="964.10" y2="385.0" class="wk"/>
<rect x="962.90" y="340.0" width="2.4" height="42.2" class="cg"/>
<line x1="967.83" y1="333.3" x2="967.83" y2="350.0" class="wk"/>
<rect x="966.63" y="336.7" width="2.4" height="4.4" class="cr"/>
<line x1="971.55" y1="317.8" x2="971.55" y2="350.0" class="wk"/>
<rect x="970.35" y="334.4" width="2.4" height="12.3" class="cg"/>
<line x1="975.28" y1="324.4" x2="975.28" y2="345.0" class="wk"/>
<rect x="974.08" y="333.3" width="2.4" height="4.5" class="cr"/>
<line x1="979.00" y1="307.8" x2="979.00" y2="337.0" class="wk"/>
<rect x="977.80" y="310.0" width="2.4" height="24.4" class="cg"/>
<line x1="982.73" y1="283.3" x2="982.73" y2="312.0" class="wk"/>
<rect x="981.53" y="287.8" width="2.4" height="22.2" class="cg"/>
<line x1="986.45" y1="286.7" x2="986.45" y2="350.0" class="wk"/>
<rect x="985.25" y="287.8" width="2.4" height="58.9" class="cr"/>
<line x1="990.18" y1="341.1" x2="990.18" y2="381.1" class="wk"/>
<rect x="988.98" y="346.7" width="2.4" height="23.3" class="cr"/>
<line x1="993.91" y1="343.0" x2="993.91" y2="375.0" class="wk"/>
<rect x="992.71" y="345.6" width="2.4" height="26.6" class="cg"/>
<line x1="997.63" y1="330.0" x2="997.63" y2="348.0" class="wk"/>
<rect x="996.43" y="334.4" width="2.4" height="11.2" class="cg"/>
<line x1="1001.36" y1="322.2" x2="1001.36" y2="344.4" class="wk"/>
<rect x="1000.16" y="328.9" width="2.4" height="5.5" class="cg"/>
<line x1="1005.08" y1="303.3" x2="1005.08" y2="336.7" class="wk"/>
<rect x="1003.88" y="306.7" width="2.4" height="22.2" class="cg"/>
<line x1="1008.81" y1="286.7" x2="1008.81" y2="310.0" class="wk"/>
<rect x="1007.61" y="300.0" width="2.4" height="6.7" class="cg"/>
<line x1="1012.53" y1="286.7" x2="1012.53" y2="318.0" class="wk"/>
<rect x="1011.33" y="302.2" width="2.4" height="11.1" class="cr"/>
<line x1="1016.26" y1="272.2" x2="1016.26" y2="316.0" class="wk"/>
<rect x="1015.06" y="298.9" width="2.4" height="14.4" class="cg"/>
<line x1="1019.98" y1="285.6" x2="1019.98" y2="330.0" class="wk"/>
<rect x="1018.78" y="297.3" width="2.4" height="30.5" class="cr"/>
<line x1="1023.71" y1="308.9" x2="1023.71" y2="335.6" class="wk"/>
<rect x="1022.51" y="313.3" width="2.4" height="14.5" class="cg"/>
<line x1="1027.43" y1="308.9" x2="1027.43" y2="340.0" class="wk"/>
<rect x="1026.23" y="311.1" width="2.4" height="26.7" class="cr"/>
<line x1="1031.16" y1="300.0" x2="1031.16" y2="340.0" class="wk"/>
<rect x="1029.96" y="312.2" width="2.4" height="25.6" class="cg"/>
<line x1="1034.88" y1="304.4" x2="1034.88" y2="350.0" class="wk"/>
<rect x="1033.68" y="312.2" width="2.4" height="34.5" class="cr"/>
<line x1="1038.61" y1="315.6" x2="1038.61" y2="348.9" class="wk"/>
<rect x="1037.41" y="318.9" width="2.4" height="28.9" class="cg"/>
<line x1="1042.34" y1="303.3" x2="1042.34" y2="326.0" class="wk"/>
<rect x="1041.14" y="308.9" width="2.4" height="15.5" class="cg"/>
<line x1="1046.06" y1="293.3" x2="1046.06" y2="310.0" class="wk"/>
<rect x="1044.86" y="300.0" width="2.4" height="5.6" class="cg"/>
<line x1="1049.79" y1="281.1" x2="1049.79" y2="306.0" class="wk"/>
<rect x="1048.59" y="287.8" width="2.4" height="15.5" class="cg"/>
<line x1="1053.51" y1="267.8" x2="1053.51" y2="290.0" class="wk"/>
<rect x="1052.31" y="273.3" width="2.4" height="14.5" class="cg"/>
<line x1="1057.24" y1="257.8" x2="1057.24" y2="277.0" class="wk"/>
<rect x="1056.04" y="268.9" width="2.4" height="5.5" class="cg"/>
<line x1="1060.96" y1="261.1" x2="1060.96" y2="293.0" class="wk"/>
<rect x="1059.76" y="268.9" width="2.4" height="22.2" class="cr"/>
<line x1="1064.69" y1="275.6" x2="1064.69" y2="300.0" class="wk"/>
<rect x="1063.49" y="290.0" width="2.4" height="6.7" class="cr"/>
<line x1="1068.41" y1="291.1" x2="1068.41" y2="310.0" class="wk"/>
<rect x="1067.21" y="295.6" width="2.4" height="12.2" class="cr"/>
<line x1="1072.14" y1="268.9" x2="1072.14" y2="310.0" class="wk"/>
<rect x="1070.94" y="272.2" width="2.4" height="35.6" class="cg"/>
<line x1="1075.86" y1="276.7" x2="1075.86" y2="292.0" class="wk"/>
<rect x="1074.66" y="282.2" width="2.4" height="5.6" class="cr"/>
<line x1="1079.59" y1="278.9" x2="1079.59" y2="292.2" class="wk"/>
<rect x="1078.39" y="281.1" width="2.4" height="6.7" class="cg"/>
<line x1="1083.32" y1="272.2" x2="1083.32" y2="284.0" class="wk"/>
<rect x="1082.12" y="273.3" width="2.4" height="7.8" class="cg"/>
<line x1="1087.04" y1="252.2" x2="1087.04" y2="300.0" class="wk"/>
<rect x="1085.84" y="273.3" width="2.4" height="23.4" class="cr"/>
<line x1="1090.77" y1="295.6" x2="1090.77" y2="312.0" class="wk"/>
<rect x="1089.57" y="296.7" width="2.4" height="12.2" class="cr"/>
<line x1="1094.49" y1="302.2" x2="1094.49" y2="323.0" class="wk"/>
<rect x="1093.29" y="308.9" width="2.4" height="12.2" class="cr"/>
<line x1="1098.22" y1="313.3" x2="1098.22" y2="327.8" class="wk"/>
<rect x="1097.02" y="320.0" width="2.4" height="2.2" class="cr"/>
<line x1="1101.94" y1="312.2" x2="1101.94" y2="343.3" class="wk"/>
<rect x="1100.74" y="317.8" width="2.4" height="1.1" class="cg"/>
<line x1="1105.67" y1="314.4" x2="1105.67" y2="340.0" class="wk"/>
<rect x="1104.47" y="317.8" width="2.4" height="20.0" class="cr"/>
<line x1="1109.39" y1="317.8" x2="1109.39" y2="341.1" class="wk"/>
<rect x="1108.19" y="325.6" width="2.4" height="12.2" class="cg"/>
<line x1="1113.12" y1="313.3" x2="1113.12" y2="328.0" class="wk"/>
<rect x="1111.92" y="316.7" width="2.4" height="8.9" class="cg"/>
<line x1="1116.84" y1="306.7" x2="1116.84" y2="330.0" class="wk"/>
<rect x="1115.64" y="318.9" width="2.4" height="8.9" class="cr"/>
<line x1="1120.57" y1="316.7" x2="1120.57" y2="330.0" class="wk"/>
<rect x="1119.37" y="324.0" width="2.4" height="1.6" class="cr"/>
<line x1="1124.29" y1="317.8" x2="1124.29" y2="345.6" class="wk"/>
<rect x="1123.09" y="325.6" width="2.4" height="14.4" class="cr"/>
<line x1="1128.02" y1="337.8" x2="1128.02" y2="360.0" class="wk"/>
<rect x="1126.82" y="340.0" width="2.4" height="17.8" class="cr"/>
<line x1="1131.75" y1="355.0" x2="1131.75" y2="367.5" class="wk"/>
<rect x="1130.55" y="356.7" width="2.4" height="1.3" class="cr"/>
<line x1="1135.47" y1="357.5" x2="1135.47" y2="370.0" class="wk"/>
<rect x="1134.27" y="358.0" width="2.4" height="3.3" class="cr"/>
<line x1="1139.20" y1="360.0" x2="1139.20" y2="375.0" class="wk"/>
<rect x="1138.00" y="361.3" width="2.4" height="2.5" class="cr"/>
<line x1="1142.92" y1="362.5" x2="1142.92" y2="393.8" class="wk"/>
<rect x="1141.72" y="363.8" width="2.4" height="28.7" class="cr"/>
<line x1="1146.65" y1="400.0" x2="1146.65" y2="413.8" class="wk"/>
<rect x="1145.45" y="401.3" width="2.4" height="11.2" class="cr"/>
<line x1="1150.37" y1="412.5" x2="1150.37" y2="450.0" class="wk"/>
<rect x="1149.17" y="413.8" width="2.4" height="32.5" class="cr"/>
<line x1="1154.10" y1="438.8" x2="1154.10" y2="460.0" class="wk"/>
<rect x="1152.90" y="440.0" width="2.4" height="2.5" class="cg"/>
<line x1="1157.82" y1="440.0" x2="1157.82" y2="472.0" class="wk"/>
<rect x="1156.62" y="442.5" width="2.4" height="27.5" class="cr"/>
<line x1="1161.55" y1="456.3" x2="1161.55" y2="478.8" class="wk"/>
<rect x="1160.35" y="468.8" width="2.4" height="8.7" class="cr"/>
<polyline points="73.2,392.0 74.2,417.8 76.9,442.2 81.3,451.0 84.0,455.6 86.0,438.0 88.0,420.0 92.3,416.0 96.1,419.1 99.8,419.1 103.5,419.1 107.3,410.2 111.0,390.0 114.7,372.3 118.4,373.6 122.2,343.1 125.9,332.4 129.6,316.4 133.3,303.9 137.1,289.3 140.8,270.6 144.5,270.6 148.2,239.0 152.0,238.2 155.7,242.6 159.4,239.1 163.1,226.0 166.9,225.7 170.6,225.7 174.3,219.9 178.0,209.1 181.8,191.1 185.5,175.2 189.2,167.7 192.9,167.7 196.7,156.0 200.4,144.8 204.1,125.7 207.8,104.8 211.6,104.6 215.3,104.6 219.0,104.6 222.7,86.2 226.5,86.2 230.2,90.0 233.9,120.2 237.6,124.2 241.4,124.2 245.1,124.2 248.8,124.6 252.6,164.4 256.3,202.0 260.0,243.9 263.7,248.3 267.5,256.1 271.2,256.1 274.9,266.8 278.6,287.8 282.4,301.1 286.1,336.7 289.8,336.7 293.5,336.7 297.3,336.7 301.0,342.2 304.7,350.0 308.4,417.4 312.2,434.4 315.9,452.9 319.6,452.9 323.3,487.6 327.1,492.6 330.8,507.0 334.5,565.0 338.2,575.4 342.0,567.0 345.7,542.0 349.4,538.4 353.1,515.5 356.9,484.3 360.6,484.3 364.3,453.1 368.0,444.0 371.8,444.0 375.5,444.0 379.2,444.0 382.9,429.6 386.7,396.8 390.4,380.1 394.1,371.7 397.8,367.5 401.6,363.4 405.3,315.9 409.0,281.1 412.7,264.9 416.5,296.9 420.2,320.0 423.9,320.0 427.6,320.0 431.4,338.4 435.1,369.5 438.8,384.5 442.5,402.9 446.3,391.5 450.0,379.4 453.7,369.4 457.4,369.4 461.2,369.4 464.9,369.4 468.6,310.0 472.3,297.8 476.1,283.4 479.8,278.4 483.5,275.6 487.3,241.1 491.0,226.6 494.7,203.9 498.4,182.2 502.2,163.3 505.9,163.3 509.6,162.5 513.3,168.3 517.1,168.3 520.8,168.3 524.5,168.3 528.2,188.9 532.0,188.9 535.7,188.9 539.4,201.1 543.1,201.1 546.9,212.7 550.6,212.7 554.3,212.7 558.0,212.7 561.8,214.9 565.5,196.9 569.2,234.4 572.9,234.4 576.7,249.4 580.4,258.9 584.1,270.0 587.8,270.0 591.6,296.1 595.3,297.8 599.0,297.8 602.7,297.8 606.5,297.8 610.2,302.2 613.9,302.2 617.6,302.2 621.4,332.8 625.1,362.8 628.8,373.4 632.5,412.8 636.3,420.0 640.0,426.2 643.7,432.9 647.4,450.6 651.2,441.8 654.9,441.8 658.6,426.2 662.3,423.9 666.1,402.8 669.8,391.1 673.5,391.1 677.2,391.1 681.0,391.1 684.7,391.1 688.4,401.1 692.1,401.1 695.9,399.4 699.6,413.4 703.3,434.6 707.0,457.2 710.8,476.6 714.5,476.6 718.2,476.6 722.0,493.4 725.7,509.4 729.4,523.8 733.1,542.5 736.9,546.9 740.6,553.6 744.3,553.6 748.0,553.6 751.8,556.7 755.5,563.6 759.2,559.2 762.9,542.4 766.7,503.8 770.4,491.9 774.1,490.6 777.8,485.6 781.6,468.1 785.3,463.1 789.0,444.4 792.7,439.4 796.5,452.9 800.2,454.6 803.9,454.6 807.6,454.6 811.4,455.6 815.1,451.7 818.8,438.9 822.5,438.9 826.3,435.0 830.0,413.1 833.7,408.7 837.4,401.9 841.2,368.8 844.9,368.8 848.6,368.8 852.3,368.8 856.1,372.3 859.8,374.5 863.5,379.5 867.2,387.2 871.0,409.5 874.7,418.4 878.4,431.1 882.1,440.0 885.9,440.0 889.6,436.6 893.3,436.6 897.0,436.6 900.8,431.1 904.5,431.1 908.2,425.0 911.9,416.6 915.7,414.4 919.4,414.4 923.1,416.0 926.8,420.0 930.6,420.0 934.3,420.0 938.0,420.0 941.7,421.6 945.5,418.9 949.2,417.2 952.9,396.1 956.7,384.7 960.4,382.2 964.1,371.1 967.8,371.1 971.6,363.9 975.3,363.9 979.0,358.9 982.7,346.6 986.5,334.1 990.2,332.2 993.9,332.2 997.6,332.2 1001.4,332.2 1005.1,332.2 1008.8,333.9 1012.5,333.9 1016.3,323.6 1020.0,310.1 1023.7,308.3 1027.4,306.1 1031.2,306.1 1034.9,311.1 1038.6,311.1 1042.3,317.8 1046.1,321.6 1049.8,315.6 1053.5,308.9 1057.2,303.9 1061.0,303.4 1064.7,291.9 1068.4,283.9 1072.1,283.9 1075.9,283.9 1079.6,283.9 1083.3,285.6 1087.0,281.1 1090.8,282.1 1094.5,287.6 1098.2,290.0 1101.9,297.8 1105.7,297.8 1109.4,297.8 1113.1,319.5 1116.8,322.8 1120.6,325.0 1124.3,326.1 1128.0,333.4 1131.7,337.1 1135.5,338.4 1139.2,340.9 1142.9,355.2 1146.6,365.8 1150.4,393.9 1154.1,407.5 1157.8,414.8 1161.5,419.4" class="l" stroke="#7a4fd0"/>
</g>
<g clip-path="url(#pc)">
<line x1="310" y1="4.5" x2="1169.5" y2="322" stroke="#5fa8a8" stroke-width="1.3"/>
<line x1="1083.4" y1="4" x2="1169.5" y2="520" stroke="#5fa8a8" stroke-width="1.3"/>
<line x1="68" y1="477" x2="1169.5" y2="477" stroke="#9c8c84" stroke-width="1" stroke-dasharray="1.6,1.6"/>
<line x1="547.5" y1="4" x2="547.5" y2="681" stroke="#aaa" stroke-width="1" stroke-dasharray="2.5,2.5"/>
<line x1="68" y1="599.5" x2="1169.5" y2="599.5" stroke="#999" stroke-width="1" stroke-dasharray="3,3"/>
</g>
<line x1="1169.8" y1="4" x2="1169.8" y2="681.5" stroke="#8d8d90" stroke-width="1.6"/>
<line x1="68" y1="681.2" x2="1170.5" y2="681.2" stroke="#8d8d90" stroke-width="1.6"/>
<line x1="1170" y1="27.4" x2="1173.5" y2="27.4" stroke="#888" stroke-width="1"/>
<text x="1175" y="30.6" class="pl" textLength="31.1" lengthAdjust="spacingAndGlyphs">1.52000</text>
<line x1="1170" y1="64.6" x2="1173.5" y2="64.6" stroke="#888" stroke-width="1"/>
<text x="1175" y="67.8" class="pl" textLength="31.1" lengthAdjust="spacingAndGlyphs">1.50000</text>
<line x1="1170" y1="101.8" x2="1173.5" y2="101.8" stroke="#888" stroke-width="1"/>
<text x="1175" y="105.0" class="pl" textLength="31.1" lengthAdjust="spacingAndGlyphs">1.48000</text>
<line x1="1170" y1="138.9" x2="1173.5" y2="138.9" stroke="#888" stroke-width="1"/>
<text x="1175" y="142.1" class="pl" textLength="31.1" lengthAdjust="spacingAndGlyphs">1.46000</text>
<line x1="1170" y1="176.1" x2="1173.5" y2="176.1" stroke="#888" stroke-width="1"/>
<text x="1175" y="179.3" class="pl" textLength="31.1" lengthAdjust="spacingAndGlyphs">1.44000</text>
<line x1="1170" y1="213.3" x2="1173.5" y2="213.3" stroke="#888" stroke-width="1"/>
<text x="1175" y="216.5" class="pl" textLength="31.1" lengthAdjust="spacingAndGlyphs">1.42000</text>
<line x1="1170" y1="250.5" x2="1173.5" y2="250.5" stroke="#888" stroke-width="1"/>
<text x="1175" y="253.7" class="pl" textLength="31.1" lengthAdjust="spacingAndGlyphs">1.40000</text>
<line x1="1170" y1="287.7" x2="1173.5" y2="287.7" stroke="#888" stroke-width="1"/>
<text x="1175" y="290.9" class="pl" textLength="31.1" lengthAdjust="spacingAndGlyphs">1.38000</text>
<line x1="1170" y1="324.8" x2="1173.5" y2="324.8" stroke="#888" stroke-width="1"/>
<text x="1175" y="328.0" class="pl" textLength="31.1" lengthAdjust="spacingAndGlyphs">1.36000</text>
<line x1="1170" y1="362.0" x2="1173.5" y2="362.0" stroke="#888" stroke-width="1"/>
<text x="1175" y="365.2" class="pl" textLength="31.1" lengthAdjust="spacingAndGlyphs">1.34000</text>
<line x1="1170" y1="399.2" x2="1173.5" y2="399.2" stroke="#888" stroke-width="1"/>
<text x="1175" y="402.4" class="pl" textLength="31.1" lengthAdjust="spacingAndGlyphs">1.32000</text>
<line x1="1170" y1="436.4" x2="1173.5" y2="436.4" stroke="#888" stroke-width="1"/>
<text x="1175" y="439.6" class="pl" textLength="31.1" lengthAdjust="spacingAndGlyphs">1.30000</text>
<line x1="1170" y1="473.6" x2="1173.5" y2="473.6" stroke="#888" stroke-width="1"/>
<text x="1175" y="476.8" class="pl" textLength="31.1" lengthAdjust="spacingAndGlyphs">1.28000</text>
<line x1="1170" y1="510.7" x2="1173.5" y2="510.7" stroke="#888" stroke-width="1"/>
<text x="1175" y="513.9" class="pl" textLength="31.1" lengthAdjust="spacingAndGlyphs">1.26000</text>
<line x1="1170" y1="547.9" x2="1173.5" y2="547.9" stroke="#888" stroke-width="1"/>
<text x="1175" y="551.1" class="pl" textLength="31.1" lengthAdjust="spacingAndGlyphs">1.24000</text>
<line x1="1170" y1="585.1" x2="1173.5" y2="585.1" stroke="#888" stroke-width="1"/>
<text x="1175" y="588.3" class="pl" textLength="31.1" lengthAdjust="spacingAndGlyphs">1.22000</text>
<line x1="1170" y1="622.3" x2="1173.5" y2="622.3" stroke="#888" stroke-width="1"/>
<text x="1175" y="625.5" class="pl" textLength="31.1" lengthAdjust="spacingAndGlyphs">1.20000</text>
<line x1="1170" y1="659.5" x2="1173.5" y2="659.5" stroke="#888" stroke-width="1"/>
<text x="1175" y="662.7" class="pl" textLength="31.1" lengthAdjust="spacingAndGlyphs">1.18000</text>
<rect x="1170" y="285.8" width="40" height="12.5" fill="#1fe85a"/>
<line x1="1170" y1="292.0" x2="1173.5" y2="292.0" stroke="#143" stroke-width="1"/>
<text x="1175" y="295.4" class="bx" style="fill:#143" textLength="31" lengthAdjust="spacingAndGlyphs">1.37831</text>
<rect x="1170" y="347.2" width="40" height="12.5" fill="#0c0cd6"/>
<line x1="1170" y1="353.5" x2="1173.5" y2="353.5" stroke="#fff" stroke-width="1"/>
<text x="1175" y="356.9" class="bx" style="fill:#fff" textLength="31" lengthAdjust="spacingAndGlyphs">1.34474</text>
<rect x="1170" y="362.2" width="40" height="12.5" fill="#f0561a"/>
<line x1="1170" y1="368.5" x2="1173.5" y2="368.5" stroke="#fff" stroke-width="1"/>
<text x="1175" y="371.9" class="bx" style="fill:#fff" textLength="31" lengthAdjust="spacingAndGlyphs">1.33733</text>
<rect x="1170" y="389.8" width="40" height="12.5" fill="#0c0cd6"/>
<line x1="1170" y1="396.0" x2="1173.5" y2="396.0" stroke="#fff" stroke-width="1"/>
<text x="1175" y="399.4" class="bx" style="fill:#fff" textLength="31" lengthAdjust="spacingAndGlyphs">1.32174</text>
<rect x="1170" y="411.4" width="40" height="14" fill="#3c10e6"/>
<line x1="1170" y1="418.4" x2="1173.5" y2="418.4" stroke="#fff" stroke-width="1"/>
<text x="1175" y="421.8" class="bx" style="fill:#fff" textLength="31" lengthAdjust="spacingAndGlyphs">1.30936</text>
<rect x="1170" y="435.1" width="40" height="12.5" fill="#0c0cd6"/>
<line x1="1170" y1="441.3" x2="1173.5" y2="441.3" stroke="#fff" stroke-width="1"/>
<text x="1175" y="444.7" class="bx" style="fill:#fff" textLength="31" lengthAdjust="spacingAndGlyphs">1.29777</text>
<rect x="1170" y="455.8" width="40" height="12.5" fill="#0c0cd6"/>
<line x1="1170" y1="462.0" x2="1173.5" y2="462.0" stroke="#fff" stroke-width="1"/>
<text x="1175" y="465.4" class="bx" style="fill:#fff" textLength="31" lengthAdjust="spacingAndGlyphs">1.28649</text>
<rect x="1170" y="477.8" width="40" height="12.5" fill="#0c0cd6"/>
<line x1="1170" y1="484.0" x2="1173.5" y2="484.0" stroke="#fff" stroke-width="1"/>
<text x="1175" y="487.4" class="bx" style="fill:#fff" textLength="31" lengthAdjust="spacingAndGlyphs">1.27327</text>
<rect x="1170" y="470.9" width="40" height="12.5" fill="#e0603c"/>
<line x1="1170" y1="477.2" x2="1173.5" y2="477.2" stroke="#fff" stroke-width="1"/>
<text x="1175" y="480.6" class="bx" style="fill:#fff" textLength="31" lengthAdjust="spacingAndGlyphs">1.27852</text>
<rect x="1170" y="493.8" width="40" height="12.5" fill="#0c0cd6"/>
<line x1="1170" y1="500.0" x2="1173.5" y2="500.0" stroke="#fff" stroke-width="1"/>
<text x="1175" y="503.4" class="bx" style="fill:#fff" textLength="31" lengthAdjust="spacingAndGlyphs">1.26601</text>
<rect x="1170" y="571.8" width="40" height="12.5" fill="#0c0cd6"/>
<line x1="1170" y1="578.0" x2="1173.5" y2="578.0" stroke="#fff" stroke-width="1"/>
<text x="1175" y="581.4" class="bx" style="fill:#fff" textLength="31" lengthAdjust="spacingAndGlyphs">1.22408</text>
<rect x="1170" y="593.8" width="40" height="12.5" fill="#555557"/>
<line x1="1170" y1="600.0" x2="1173.5" y2="600.0" stroke="#fff" stroke-width="1"/>
<text x="1175" y="603.4" class="bx" style="fill:#fff" textLength="31" lengthAdjust="spacingAndGlyphs">1.21244</text>
<rect x="1170" y="608.8" width="40" height="12.5" fill="#0c0cd6"/>
<line x1="1170" y1="615.0" x2="1173.5" y2="615.0" stroke="#fff" stroke-width="1"/>
<text x="1175" y="618.4" class="bx" style="fill:#fff" textLength="31" lengthAdjust="spacingAndGlyphs">1.20412</text>
<rect x="1170" y="638.8" width="40" height="12.5" fill="#0c0cd6"/>
<line x1="1170" y1="645.0" x2="1173.5" y2="645.0" stroke="#fff" stroke-width="1"/>
<text x="1175" y="648.4" class="bx" style="fill:#fff" textLength="31" lengthAdjust="spacingAndGlyphs">1.18775</text>
<line x1="114.5" y1="681" x2="114.5" y2="684" stroke="#888" stroke-width="1"/>
<text x="106.3" y="692" class="tl" style="text-anchor:start" textLength="16.4" lengthAdjust="spacingAndGlyphs">May</text>
<line x1="181.5" y1="681" x2="181.5" y2="684" stroke="#888" stroke-width="1"/>
<text x="173.3" y="692" class="tl" style="text-anchor:start" textLength="16.4" lengthAdjust="spacingAndGlyphs">Sep</text>
<line x1="245.5" y1="681" x2="245.5" y2="684" stroke="#888" stroke-width="1"/>
<text x="236.2" y="692" class="tb" style="text-anchor:start" textLength="18.7" lengthAdjust="spacingAndGlyphs">2010</text>
<line x1="308.5" y1="681" x2="308.5" y2="684" stroke="#888" stroke-width="1"/>
<text x="300.3" y="692" class="tl" style="text-anchor:start" textLength="16.4" lengthAdjust="spacingAndGlyphs">May</text>
<line x1="375.5" y1="681" x2="375.5" y2="684" stroke="#888" stroke-width="1"/>
<text x="367.3" y="692" class="tl" style="text-anchor:start" textLength="16.4" lengthAdjust="spacingAndGlyphs">Sep</text>
<line x1="438.5" y1="681" x2="438.5" y2="684" stroke="#888" stroke-width="1"/>
<text x="429.1" y="692" class="tb" style="text-anchor:start" textLength="18.7" lengthAdjust="spacingAndGlyphs">2011</text>
<line x1="502.5" y1="681" x2="502.5" y2="684" stroke="#888" stroke-width="1"/>
<text x="494.3" y="692" class="tl" style="text-anchor:start" textLength="16.4" lengthAdjust="spacingAndGlyphs">May</text>
<line x1="569.5" y1="681" x2="569.5" y2="684" stroke="#888" stroke-width="1"/>
<text x="561.3" y="692" class="tl" style="text-anchor:start" textLength="16.4" lengthAdjust="spacingAndGlyphs">Sep</text>
<line x1="632.5" y1="681" x2="632.5" y2="684" stroke="#888" stroke-width="1"/>
<text x="623.1" y="692" class="tb" style="text-anchor:start" textLength="18.7" lengthAdjust="spacingAndGlyphs">2012</text>
<line x1="700.5" y1="681" x2="700.5" y2="684" stroke="#888" stroke-width="1"/>
<text x="692.3" y="692" class="tl" style="text-anchor:start" textLength="16.4" lengthAdjust="spacingAndGlyphs">May</text>
<line x1="763.5" y1="681" x2="763.5" y2="684" stroke="#888" stroke-width="1"/>
<text x="755.3" y="692" class="tl" style="text-anchor:start" textLength="16.4" lengthAdjust="spacingAndGlyphs">Sep</text>
<line x1="830.5" y1="681" x2="830.5" y2="684" stroke="#888" stroke-width="1"/>
<text x="821.1" y="692" class="tb" style="text-anchor:start" textLength="18.7" lengthAdjust="spacingAndGlyphs">2013</text>
<line x1="893.5" y1="681" x2="893.5" y2="684" stroke="#888" stroke-width="1"/>
<text x="885.3" y="692" class="tl" style="text-anchor:start" textLength="16.4" lengthAdjust="spacingAndGlyphs">May</text>
<line x1="957.5" y1="681" x2="957.5" y2="684" stroke="#888" stroke-width="1"/>
<text x="949.3" y="692" class="tl" style="text-anchor:start" textLength="16.4" lengthAdjust="spacingAndGlyphs">Sep</text>
<line x1="1024.5" y1="681" x2="1024.5" y2="684" stroke="#888" stroke-width="1"/>
<text x="1015.1" y="692" class="tb" style="text-anchor:start" textLength="18.7" lengthAdjust="spacingAndGlyphs">2014</text>
<line x1="1087.5" y1="681" x2="1087.5" y2="684" stroke="#888" stroke-width="1"/>
<text x="1079.3" y="692" class="tl" style="text-anchor:start" textLength="16.4" lengthAdjust="spacingAndGlyphs">May</text>
<line x1="1151.5" y1="681" x2="1151.5" y2="684" stroke="#888" stroke-width="1"/>
<text x="1143.3" y="692" class="tl" style="text-anchor:start" textLength="16.4" lengthAdjust="spacingAndGlyphs">Sep</text>
<rect x="521" y="681.5" width="52" height="15.5" fill="#4a4a4c"/>
<text x="524" y="692.8" class="tb" style="fill:#fff;text-anchor:start" textLength="45" lengthAdjust="spacingAndGlyphs">2011-07-25</text>
<text x="84.4" y="709.5" class="btn">All</text>
<text x="115.6" y="709.5" class="btn">5y</text>
<text x="146.3" y="709.5" class="btn">1y</text>
<text x="179.4" y="709.5" class="btn">YTD</text>
<text x="214.8" y="709.5" class="btn">6m</text>
<text x="248.6" y="709.5" class="btn">3m</text>
<text x="282.8" y="709.5" class="btn">1m</text>
<text x="314.8" y="709.5" class="btn">5d</text>
<text x="346" y="709.5" class="btn">1d</text>
<line x1="100.3" y1="700" x2="100.3" y2="712" class="sep"/>
<line x1="130" y1="700" x2="130" y2="712" class="sep"/>
<line x1="160.6" y1="700" x2="160.6" y2="712" class="sep"/>
<line x1="197.5" y1="700" x2="197.5" y2="712" class="sep"/>
<line x1="231.3" y1="700" x2="231.3" y2="712" class="sep"/>
<line x1="265.3" y1="700" x2="265.3" y2="712" class="sep"/>
<line x1="298.4" y1="700" x2="298.4" y2="712" class="sep"/>
<line x1="329.7" y1="700" x2="329.7" y2="712" class="sep"/>
<text x="1092" y="709.5" class="btn">%</text>
<text x="1123" y="709.5" class="btn">log</text>
<text x="1160" y="709.5" class="btn" style="fill:#8cc6e6">auto</text>
<line x1="1106" y1="700" x2="1106" y2="712" class="sep"/>
<line x1="1139" y1="700" x2="1139" y2="712" class="sep"/>
<line x1="1179" y1="700" x2="1179" y2="712" class="sep"/>
<g transform="translate(1195.8,706.3)" fill="none" stroke="#8e9096" stroke-width="1.4"><circle r="3"/><line x1="0" y1="-3.4" x2="0" y2="-5.1" transform="rotate(0)" stroke-width="1.9"/><line x1="0" y1="-3.4" x2="0" y2="-5.1" transform="rotate(45)" stroke-width="1.9"/><line x1="0" y1="-3.4" x2="0" y2="-5.1" transform="rotate(90)" stroke-width="1.9"/><line x1="0" y1="-3.4" x2="0" y2="-5.1" transform="rotate(135)" stroke-width="1.9"/><line x1="0" y1="-3.4" x2="0" y2="-5.1" transform="rotate(180)" stroke-width="1.9"/><line x1="0" y1="-3.4" x2="0" y2="-5.1" transform="rotate(225)" stroke-width="1.9"/><line x1="0" y1="-3.4" x2="0" y2="-5.1" transform="rotate(270)" stroke-width="1.9"/><line x1="0" y1="-3.4" x2="0" y2="-5.1" transform="rotate(315)" stroke-width="1.9"/></g>
<text x="74.7" y="24.3" style="font-size:12.8px;fill:#555" textLength="154.8" lengthAdjust="spacingAndGlyphs">Euro Fx/U.S. Dollar, W, FX</text>
<path d="M233.5,17.5 l2.5,2.5 l2.5,-2.5z" fill="#bbb"/>
<rect x="248" y="13" width="11" height="11" rx="1" fill="#ebebee"/><ellipse cx="253.5" cy="18.5" rx="3.8" ry="2.4" fill="none" stroke="#fbfbfb" stroke-width="1.1"/><circle cx="253.5" cy="18.5" r="1.1" fill="#fbfbfb"/><rect x="262" y="13" width="11" height="11" rx="1" fill="#ebebee"/><circle cx="267.5" cy="18.5" r="3" fill="none" stroke="#fbfbfb" stroke-width="1.4"/>
<text y="23.3" style="font-size:10.2px"><tspan fill="#666" x="282.7">O</tspan><tspan fill="#86a894" x="294.5" textLength="33" lengthAdjust="spacingAndGlyphs">1.43633</tspan><tspan fill="#666" x="332.5">H</tspan><tspan fill="#86a894" x="343.5" textLength="33" lengthAdjust="spacingAndGlyphs">1.45350</tspan><tspan fill="#666" x="381.4">L</tspan><tspan fill="#86a894" x="390.6" textLength="33" lengthAdjust="spacingAndGlyphs">1.42280</tspan><tspan fill="#666" x="429.2">C</tspan><tspan fill="#86a894" x="439" textLength="33" lengthAdjust="spacingAndGlyphs">1.43712</tspan></text>
<text x="74.7" y="40.9" style="font-size:9.5px;fill:#555" textLength="98.7" lengthAdjust="spacingAndGlyphs">Ichimoku (7, 22, 44, 22)</text>
<path d="M180,36 l2.2,2.2 l2.2,-2.2z" fill="#bbb"/>
<rect x="192" y="31.5" width="11" height="11" rx="1" fill="#ebebee"/><ellipse cx="197.5" cy="37.0" rx="3.8" ry="2.4" fill="none" stroke="#fbfbfb" stroke-width="1.1"/><circle cx="197.5" cy="37.0" r="1.1" fill="#fbfbfb"/><rect x="206" y="31.5" width="11" height="11" rx="1" fill="#ebebee"/><circle cx="211.5" cy="37.0" r="3" fill="none" stroke="#fbfbfb" stroke-width="1.4"/><rect x="220" y="31.5" width="11" height="11" rx="1" fill="#ebebee"/><path d="M223.0,34.5 L228.0,39.5 M228.0,34.5 L223.0,39.5" stroke="#fbfbfb" stroke-width="1.3"/>
<text x="244.7" y="40.9" style="font-size:9.6px"><tspan fill="#7d5bc8">1.4207</tspan><tspan fill="#e8b460" x="281.5">1.4325</tspan><tspan fill="#4fb0d8" x="318">1.2958</tspan><tspan fill="#5ccc7a" x="354">1.3472</tspan><tspan fill="#e07a50" x="391.5">1.3078</tspan></text>
<text x="74.7" y="55.6" style="font-size:9.5px;fill:#d4d4d8" textLength="56.9" lengthAdjust="spacingAndGlyphs">GER30, FXCM</text>
<path d="M136,51 l2.2,2.2 l2.2,-2.2z" fill="#ddd"/>
<rect x="150.3" y="46.5" width="11.5" height="11.5" fill="#4d7fd0"/><ellipse cx="156" cy="52.2" rx="4" ry="2.5" fill="none" stroke="#fff" stroke-width="1"/><circle cx="156" cy="52.2" r="1.2" fill="#fff"/>
<rect x="164.5" y="46.5" width="11" height="11" rx="1" fill="#efeff1"/><circle cx="170.0" cy="52.0" r="3" fill="none" stroke="#fbfbfb" stroke-width="1.4"/><rect x="178.5" y="46.5" width="11" height="11" rx="1" fill="#efeff1"/><path d="M181.5,49.5 L186.5,54.5 M186.5,49.5 L181.5,54.5" stroke="#fbfbfb" stroke-width="1.3"/>
<text x="203" y="55.6" style="font-size:9.6px;fill:#d6d6da">7331<tspan x="232">7380</tspan><tspan x="261">7061</tspan><tspan x="290">7137</tspan></text>
<text x="74.7" y="70.2" style="font-size:9.5px;fill:#555" textLength="64.3" lengthAdjust="spacingAndGlyphs">MA (200, close)</text>
<path d="M144,66.5 l2.2,2.2 l2.2,-2.2z" fill="#bbb"/>
<rect x="157" y="62" width="11" height="11" rx="1" fill="#ebebee"/><ellipse cx="162.5" cy="67.5" rx="3.8" ry="2.4" fill="none" stroke="#fbfbfb" stroke-width="1.1"/><circle cx="162.5" cy="67.5" r="1.1" fill="#fbfbfb"/><rect x="171" y="62" width="11" height="11" rx="1" fill="#ebebee"/><circle cx="176.5" cy="67.5" r="3" fill="none" stroke="#fbfbfb" stroke-width="1.4"/><rect x="185" y="62" width="11" height="11" rx="1" fill="#ebebee"/><path d="M188.0,65.0 L193.0,70.0 M193.0,65.0 L188.0,70.0" stroke="#fbfbfb" stroke-width="1.3"/>
<text x="210" y="70.2" style="font-size:9.6px;fill:#d050d0">1.4023</text>
<circle cx="1124" cy="17.8" r="2.8" fill="#3f8a62"/>
<text x="1130" y="21" style="font-size:9.6px;fill:#6aa28a" textLength="32.5" lengthAdjust="spacingAndGlyphs">realtime</text>
<rect x="591" y="-3" width="99.5" height="16.5" rx="3" fill="#f6f6f9" stroke="#e4e4ea" stroke-width="1"/>
<text x="595" y="9.5" style="font-size:8.8px;font-weight:bold;fill:#b0b0b6" textLength="85" lengthAdjust="spacingAndGlyphs">Exit Full Screen (ESC)</text>
<rect x="68" y="642.5" width="107" height="38" fill="#fff" fill-opacity="0.72"/>
<text x="79.3" y="655.5" style="font-size:10.4px;fill:#a8a8ac" textLength="63.7" lengthAdjust="spacingAndGlyphs">Sponsored by</text>
<text x="79.3" y="670" style="font-size:10px;fill:#555;letter-spacing:9.7px">EXANTE</text>
<circle cx="599" cy="666" r="8.8" fill="#f3f3f5" stroke="#dadadf" stroke-width="1"/>
<path d="M596,666 l5,-3.5 v7z" fill="#aaa"/>
<circle cx="620" cy="666" r="8.8" fill="#f3f3f5" stroke="#dadadf" stroke-width="1"/>
<line x1="616" y1="666" x2="624" y2="666" stroke="#aaa" stroke-width="1.8"/>
<circle cx="640.6" cy="666" r="8.8" fill="#f3f3f5" stroke="#dadadf" stroke-width="1"/>
<path d="M644.1,664 A4,4 0 1 0 644.4,667.5" fill="none" stroke="#aaa" stroke-width="1.5"/><path d="M642.1,662 l3.5,-0.8 l-0.5,3.6z" fill="#aaa"/>
<circle cx="661.5" cy="666" r="8.8" fill="#f3f3f5" stroke="#dadadf" stroke-width="1"/>
<line x1="657.5" y1="666" x2="665.5" y2="666" stroke="#aaa" stroke-width="1.8"/><line x1="661.5" y1="662" x2="661.5" y2="670" stroke="#aaa" stroke-width="1.8"/>
<circle cx="682.5" cy="666" r="8.8" fill="#f3f3f5" stroke="#dadadf" stroke-width="1"/>
<path d="M685.5,666 l-5,-3.5 v7z" fill="#aaa"/>
<path d="M547,599.5 l0,12.8 l2.9,-2.8 l2.2,4.9 l2,-0.9 l-2.2,-4.8 l4,0z" fill="#fff" stroke="#222" stroke-width="0.9" stroke-linejoin="round"/>
</svg>
</body></html>
